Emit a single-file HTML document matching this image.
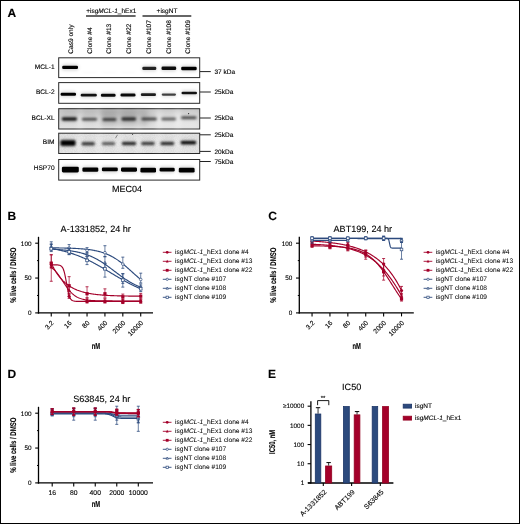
<!DOCTYPE html>
<html><head><meta charset="utf-8"><style>
html,body{margin:0;padding:0;background:#fff;overflow:hidden}
svg{display:block;will-change:transform}
text{font-family:"Liberation Sans", sans-serif;fill:#000;text-rendering:geometricPrecision;stroke:#000;stroke-width:0.12px}
.lg{stroke-width:0.04px}
</style></head><body>
<svg width="520" height="524" viewBox="0 0 520 524">
<defs>
<filter id="blur" x="-20%" y="-100%" width="140%" height="300%"><feGaussianBlur stdDeviation="0.55"/></filter>
<filter id="blur2" x="-20%" y="-100%" width="140%" height="300%"><feGaussianBlur stdDeviation="1.4"/></filter>
<filter id="blur4" x="-20%" y="-100%" width="140%" height="300%"><feGaussianBlur stdDeviation="0.85"/></filter>
<filter id="blur3" x="-20%" y="-20%" width="140%" height="140%"><feGaussianBlur stdDeviation="2.5"/></filter>
<filter id="noise" x="0" y="0" width="100%" height="100%"><feTurbulence type="fractalNoise" baseFrequency="0.9" numOctaves="2" seed="3"/><feColorMatrix type="matrix" values="0 0 0 0 0  0 0 0 0 0  0 0 0 0 0  0 0 0 -1.6 1.1"/></filter>
<linearGradient id="gxl" x1="0" y1="0" x2="0" y2="1"><stop offset="0" stop-color="#c6c6c6"/><stop offset="0.5" stop-color="#d2d2d2"/><stop offset="0.62" stop-color="#dadada"/><stop offset="1" stop-color="#e2e2e2"/></linearGradient>
<linearGradient id="gbim" x1="0" y1="0" x2="0" y2="1"><stop offset="0" stop-color="#e2e2e2"/><stop offset="1" stop-color="#e6e6e6"/></linearGradient>
</defs>
<rect x="0.5" y="0.5" width="519" height="523" fill="#fff" stroke="#000" stroke-width="1"/>
<text x="7.5" y="17.4" font-size="12" font-weight="bold">A</text>
<text x="86.2" y="12.7" font-size="6.5">+isg<tspan font-style="italic">MCL-1</tspan>_hEx1</text>
<line x1="86" y1="16" x2="135.6" y2="16" stroke="#333" stroke-width="1.3"/>
<text x="167" y="12.7" font-size="6.5" text-anchor="middle">+isgNT</text>
<line x1="142.5" y1="16" x2="191.3" y2="16" stroke="#333" stroke-width="1.3"/>
<text transform="translate(73.3,53.8) rotate(-90)" font-size="6.6">Cas9 only</text>
<text transform="translate(92,53.8) rotate(-90)" font-size="6.6">Clone #4</text>
<text transform="translate(111.4,53.8) rotate(-90)" font-size="6.6">Clone #13</text>
<text transform="translate(130.9,53.8) rotate(-90)" font-size="6.6">Clone #22</text>
<text transform="translate(151,53.8) rotate(-90)" font-size="6.6">Clone #107</text>
<text transform="translate(170.6,53.8) rotate(-90)" font-size="6.6">Clone #108</text>
<text transform="translate(190.4,53.8) rotate(-90)" font-size="6.6">Clone #109</text>
<rect x="58.7" y="57.8" width="141" height="19.8" fill="#fff" stroke="#2a2a2a" stroke-width="1"/>
<text x="54.6" y="68.55" font-size="6.6" text-anchor="end">MCL-1</text>
<rect x="58.7" y="82.6" width="141" height="20.7" fill="#fff" stroke="#2a2a2a" stroke-width="1"/>
<text x="54.6" y="94.35" font-size="6.6" text-anchor="end">BCL-2</text>
<rect x="58.7" y="108.7" width="141" height="20.3" fill="url(#gxl)" stroke="#2a2a2a" stroke-width="1"/>
<text x="54.6" y="119.85" font-size="6.6" text-anchor="end">BCL-XL</text>
<rect x="58.7" y="133.2" width="141" height="20.3" fill="url(#gbim)" stroke="#2a2a2a" stroke-width="1"/>
<text x="54.6" y="144.45" font-size="6.6" text-anchor="end">BIM</text>
<rect x="58.7" y="159.5" width="141" height="20.6" fill="#fff" stroke="#2a2a2a" stroke-width="1"/>
<text x="54.6" y="169.55" font-size="6.6" text-anchor="end">HSP70</text>
<rect x="59.2" y="133.7" width="140" height="19.3" fill="#000" opacity="0.06" filter="url(#noise)"/>
<g filter="url(#blur3)">
<rect x="78.5" y="110" width="3" height="18" fill="#fff" opacity="0.55"/>
<rect x="78.5" y="135" width="3" height="17" fill="#fff" opacity="0.45"/>
<rect x="98" y="110" width="3" height="18" fill="#fff" opacity="0.55"/>
<rect x="98" y="135" width="3" height="17" fill="#fff" opacity="0.45"/>
<rect x="117.5" y="110" width="3" height="18" fill="#fff" opacity="0.55"/>
<rect x="117.5" y="135" width="3" height="17" fill="#fff" opacity="0.45"/>
<rect x="137" y="110" width="3" height="18" fill="#fff" opacity="0.55"/>
<rect x="137" y="135" width="3" height="17" fill="#fff" opacity="0.45"/>
<rect x="157" y="110" width="3" height="18" fill="#fff" opacity="0.55"/>
<rect x="157" y="135" width="3" height="17" fill="#fff" opacity="0.45"/>
<rect x="176.5" y="110" width="3" height="18" fill="#fff" opacity="0.55"/>
<rect x="176.5" y="135" width="3" height="17" fill="#fff" opacity="0.45"/>
</g>
<g filter="url(#blur3)">
<rect x="100" y="109" width="48" height="17" fill="#000" opacity="0.12"/>
<rect x="158" y="112" width="40" height="16" fill="#fff" opacity="0.25"/>
<rect x="62" y="109" width="80" height="6" fill="#000" opacity="0.07"/>
</g>
<g filter="url(#blur2)">
<rect x="61.7" y="64.2" width="16.8" height="6.4" rx="3.2" fill="#000" opacity="0.15"/>
<rect x="141.8" y="65.3" width="15" height="6.2" rx="3.1" fill="#000" opacity="0.13"/>
<rect x="161" y="65.1" width="15.7" height="6.4" rx="3.2" fill="#000" opacity="0.14"/>
<rect x="180.7" y="65.2" width="16.5" height="6.6" rx="3.3" fill="#000" opacity="0.15"/>
<rect x="60.1" y="91.3" width="16.4" height="6" rx="3" fill="#000" opacity="0.15"/>
<rect x="80.2" y="92.2" width="17.1" height="5.8" rx="2.9" fill="#000" opacity="0.14"/>
<rect x="100.4" y="92.3" width="15.7" height="6" rx="3" fill="#000" opacity="0.14"/>
<rect x="120" y="92" width="16" height="6" rx="3" fill="#000" opacity="0.14"/>
<rect x="140.3" y="91.85" width="16.2" height="5.7" rx="2.85" fill="#000" opacity="0.13"/>
<rect x="161.2" y="92" width="15.3" height="5.2" rx="2.6" fill="#000" opacity="0.11"/>
<rect x="181" y="90.15" width="16.5" height="5.7" rx="2.85" fill="#000" opacity="0.14"/>
<rect x="61.4" y="165.3" width="17.9" height="8.6" rx="4.3" fill="#000" opacity="0.15"/>
<rect x="81.9" y="165.95" width="16.9" height="7.3" rx="3.65" fill="#000" opacity="0.15"/>
<rect x="101.4" y="165.95" width="16.9" height="6.9" rx="3.45" fill="#000" opacity="0.15"/>
<rect x="120.5" y="166.05" width="17" height="7.1" rx="3.55" fill="#000" opacity="0.15"/>
<rect x="139.9" y="166.25" width="16.6" height="7.7" rx="3.85" fill="#000" opacity="0.15"/>
<rect x="159.1" y="166.15" width="16.1" height="6.9" rx="3.45" fill="#000" opacity="0.15"/>
<rect x="178.3" y="166.2" width="16.8" height="7.8" rx="3.9" fill="#000" opacity="0.15"/>
<rect x="81.5" y="70.05" width="16" height="4.5" rx="2.25" fill="#000" opacity="0"/>
<rect x="101.5" y="70.05" width="16" height="4.5" rx="2.25" fill="#000" opacity="0"/>
<rect x="120.5" y="70.05" width="16" height="4.5" rx="2.25" fill="#000" opacity="0"/>
<rect x="61.4" y="116.1" width="16" height="5.8" rx="2.9" fill="#000" opacity="0.14"/>
<rect x="81.5" y="116.55" width="16" height="5.5" rx="2.75" fill="#000" opacity="0.09"/>
<rect x="102.1" y="116.65" width="14.7" height="5.7" rx="2.85" fill="#000" opacity="0.1"/>
<rect x="121" y="116.1" width="15.5" height="5.8" rx="2.9" fill="#000" opacity="0.12"/>
<rect x="141" y="116.2" width="16.2" height="5.6" rx="2.8" fill="#000" opacity="0.1"/>
<rect x="161" y="116.3" width="15.4" height="5.4" rx="2.7" fill="#000" opacity="0.08"/>
<rect x="180.7" y="115" width="16.2" height="5.4" rx="2.7" fill="#000" opacity="0.1"/>
<rect x="60.1" y="138.7" width="15.8" height="8.6" rx="4.3" fill="#000" opacity="0.15"/>
<rect x="81.2" y="140.7" width="14" height="6" rx="3" fill="#000" opacity="0.11"/>
<rect x="101.5" y="140.8" width="14" height="5.8" rx="2.9" fill="#000" opacity="0.09"/>
<rect x="121.5" y="140.5" width="15" height="6" rx="3" fill="#000" opacity="0.12"/>
<rect x="140.8" y="140.5" width="14.2" height="6" rx="3" fill="#000" opacity="0.1"/>
<rect x="160.1" y="140.5" width="14.4" height="6" rx="3" fill="#000" opacity="0.12"/>
<rect x="180.3" y="139.4" width="16.2" height="6.4" rx="3.2" fill="#000" opacity="0.14"/>
</g>
<g filter="url(#blur)">
<rect x="62.2" y="65.7" width="15.8" height="3.4" rx="1.3" fill="#000" opacity="1.0"/>
<rect x="142.3" y="66.8" width="14" height="3.2" rx="1.3" fill="#000" opacity="0.85"/>
<rect x="161.5" y="66.6" width="14.7" height="3.4" rx="1.3" fill="#000" opacity="0.95"/>
<rect x="181.2" y="66.7" width="15.5" height="3.6" rx="1.3" fill="#000" opacity="1.0"/>
<rect x="60.6" y="92.8" width="15.4" height="3" rx="1.3" fill="#000" opacity="1.0"/>
<rect x="80.7" y="93.7" width="16.1" height="2.8" rx="1.3" fill="#000" opacity="0.92"/>
<rect x="100.9" y="93.8" width="14.7" height="3" rx="1.3" fill="#000" opacity="0.96"/>
<rect x="120.5" y="93.5" width="15" height="3" rx="1.3" fill="#000" opacity="0.96"/>
<rect x="140.8" y="93.35" width="15.2" height="2.7" rx="1.3" fill="#000" opacity="0.88"/>
<rect x="161.7" y="93.5" width="14.3" height="2.2" rx="1.1" fill="#000" opacity="0.72"/>
<rect x="181.5" y="91.65" width="15.5" height="2.7" rx="1.3" fill="#000" opacity="0.92"/>
<rect x="61.9" y="166.8" width="16.9" height="5.6" rx="1.3" fill="#000" opacity="1.0"/>
<rect x="82.4" y="167.45" width="15.9" height="4.3" rx="1.3" fill="#000" opacity="1.0"/>
<rect x="101.9" y="167.45" width="15.9" height="3.9" rx="1.3" fill="#000" opacity="1.0"/>
<rect x="121" y="167.55" width="16" height="4.1" rx="1.3" fill="#000" opacity="1.0"/>
<rect x="140.4" y="167.75" width="15.6" height="4.7" rx="1.3" fill="#000" opacity="1.0"/>
<rect x="159.6" y="167.65" width="15.1" height="3.9" rx="1.3" fill="#000" opacity="1.0"/>
<rect x="178.8" y="167.7" width="15.8" height="4.8" rx="1.3" fill="#000" opacity="1.0"/>
</g>
<g filter="url(#blur4)">
<rect x="82" y="71.55" width="15" height="1.5" rx="0.75" fill="#000" opacity="0.025"/>
<rect x="102" y="71.55" width="15" height="1.5" rx="0.75" fill="#000" opacity="0.025"/>
<rect x="121" y="71.55" width="15" height="1.5" rx="0.75" fill="#000" opacity="0.025"/>
<rect x="61.9" y="117.6" width="15" height="2.8" rx="1.3" fill="#000" opacity="0.95"/>
<rect x="82" y="118.05" width="15" height="2.5" rx="1.25" fill="#000" opacity="0.62"/>
<rect x="102.6" y="118.15" width="13.7" height="2.7" rx="1.3" fill="#000" opacity="0.7"/>
<rect x="121.5" y="117.6" width="14.5" height="2.8" rx="1.3" fill="#000" opacity="0.78"/>
<rect x="141.5" y="117.7" width="15.2" height="2.6" rx="1.3" fill="#000" opacity="0.66"/>
<rect x="161.5" y="117.8" width="14.4" height="2.4" rx="1.2" fill="#000" opacity="0.56"/>
<rect x="181.2" y="116.5" width="15.2" height="2.4" rx="1.2" fill="#000" opacity="0.64"/>
<rect x="60.6" y="140.2" width="14.8" height="5.6" rx="1.3" fill="#000" opacity="1.0"/>
<rect x="81.7" y="142.2" width="13" height="3" rx="1.3" fill="#000" opacity="0.75"/>
<rect x="102" y="142.3" width="13" height="2.8" rx="1.3" fill="#000" opacity="0.58"/>
<rect x="122" y="142" width="14" height="3" rx="1.3" fill="#000" opacity="0.8"/>
<rect x="141.3" y="142" width="13.2" height="3" rx="1.3" fill="#000" opacity="0.7"/>
<rect x="160.6" y="142" width="13.4" height="3" rx="1.3" fill="#000" opacity="0.78"/>
<rect x="180.8" y="140.9" width="15.2" height="3.4" rx="1.3" fill="#000" opacity="0.95"/>
</g>
<circle cx="188.6" cy="113.6" r="0.6" fill="#222"/>
<path d="M115.5 138.2 L117.5 134.8" stroke="#333" stroke-width="0.5"/>
<circle cx="132.5" cy="134.6" r="0.5" fill="#333"/>
<line x1="200" y1="71.6" x2="210.8" y2="71.6" stroke="#222" stroke-width="1"/>
<text x="214.5" y="73.9" font-size="6.5">37 kDa</text>
<line x1="200" y1="92" x2="210.8" y2="92" stroke="#222" stroke-width="1"/>
<text x="214.5" y="94.3" font-size="6.5">25kDa</text>
<line x1="200" y1="118" x2="210.8" y2="118" stroke="#222" stroke-width="1"/>
<text x="214.5" y="120.3" font-size="6.5">25kDa</text>
<line x1="200" y1="134.8" x2="210.8" y2="134.8" stroke="#222" stroke-width="1"/>
<text x="214.5" y="137.1" font-size="6.5">25kDa</text>
<line x1="200" y1="151.4" x2="210.8" y2="151.4" stroke="#222" stroke-width="1"/>
<text x="214.5" y="153.7" font-size="6.5">20kDa</text>
<line x1="200" y1="161.5" x2="210.8" y2="161.5" stroke="#222" stroke-width="1"/>
<text x="214.5" y="163.8" font-size="6.5">75kDa</text>
<text x="127" y="191.8" font-size="9.0" text-anchor="middle">MEC04</text>
<text x="7.4" y="220.4" font-size="12" font-weight="bold">B</text>
<text x="60.6" y="231.9" font-size="9.1">A-1331852, 24 hr</text>
<line x1="38.5" y1="236.8" x2="38.5" y2="313.6" stroke="#000" stroke-width="1.3"/>
<line x1="37.9" y1="312.9" x2="153" y2="312.9" stroke="#000" stroke-width="1.4"/>
<line x1="35.2" y1="243.2" x2="38.5" y2="243.2" stroke="#000" stroke-width="1.1"/>
<text x="31.5" y="245.5" font-size="6.4" text-anchor="end">100</text>
<line x1="35.2" y1="278.05" x2="38.5" y2="278.05" stroke="#000" stroke-width="1.1"/>
<text x="31.5" y="280.35" font-size="6.4" text-anchor="end">50</text>
<line x1="35.2" y1="312.9" x2="38.5" y2="312.9" stroke="#000" stroke-width="1.1"/>
<text x="31.5" y="315.2" font-size="6.4" text-anchor="end">0</text>
<line x1="37" y1="260.62" x2="38.5" y2="260.62" stroke="#000" stroke-width="1.0"/>
<line x1="37" y1="295.47" x2="38.5" y2="295.47" stroke="#000" stroke-width="1.0"/>
<line x1="51.25" y1="312.9" x2="51.25" y2="316.4" stroke="#000" stroke-width="1.1"/>
<text transform="translate(54.25,323.4) rotate(-45)" font-size="6.7" text-anchor="end">3.2</text>
<line x1="69.14" y1="312.9" x2="69.14" y2="316.4" stroke="#000" stroke-width="1.1"/>
<text transform="translate(72.14,323.4) rotate(-45)" font-size="6.7" text-anchor="end">16</text>
<line x1="87.04" y1="312.9" x2="87.04" y2="316.4" stroke="#000" stroke-width="1.1"/>
<text transform="translate(90.04,323.4) rotate(-45)" font-size="6.7" text-anchor="end">80</text>
<line x1="104.93" y1="312.9" x2="104.93" y2="316.4" stroke="#000" stroke-width="1.1"/>
<text transform="translate(107.93,323.4) rotate(-45)" font-size="6.7" text-anchor="end">400</text>
<line x1="122.82" y1="312.9" x2="122.82" y2="316.4" stroke="#000" stroke-width="1.1"/>
<text transform="translate(125.82,323.4) rotate(-45)" font-size="6.7" text-anchor="end">2000</text>
<line x1="140.72" y1="312.9" x2="140.72" y2="316.4" stroke="#000" stroke-width="1.1"/>
<text transform="translate(143.72,323.4) rotate(-45)" font-size="6.7" text-anchor="end">10000</text>
<text transform="translate(95.9,349.4) scale(0.67,1)" font-size="8.7" font-weight="bold" text-anchor="middle">nM</text>
<text transform="translate(15.6,275.2) rotate(-90) scale(0.716,1)" font-size="8.4" font-weight="bold" text-anchor="middle">% live cells / DMSO</text>
<line x1="162.8" y1="252.3" x2="171.5" y2="252.3" stroke="#a4002a" stroke-width="0.9"/>
<circle cx="167.2" cy="252.3" r="1.4" fill="#a4002a"/>
<text class="lg" x="175" y="254.3" font-size="6.6">isg<tspan font-style="italic">MCL-1</tspan>_hEx1 clone #4</text>
<line x1="162.8" y1="261.3" x2="171.5" y2="261.3" stroke="#a4002a" stroke-width="0.9"/>
<path d="M167.2 259.76L168.6 262.42L165.8 262.42Z" fill="#a4002a"/>
<text class="lg" x="175" y="263.3" font-size="6.6">isg<tspan font-style="italic">MCL-1</tspan>_hEx1 clone #13</text>
<line x1="162.8" y1="270.3" x2="171.5" y2="270.3" stroke="#a4002a" stroke-width="0.9"/>
<rect x="165.8" y="268.9" width="2.8" height="2.8" fill="#a4002a"/>
<text class="lg" x="175" y="272.3" font-size="6.6">isg<tspan font-style="italic">MCL-1</tspan>_hEx1 clone #22</text>
<line x1="162.8" y1="279.3" x2="171.5" y2="279.3" stroke="#2c4a7d" stroke-width="0.9"/>
<circle cx="167.2" cy="279.3" r="1.148" fill="#fff" stroke="#2c4a7d" stroke-width="0.7"/>
<text class="lg" x="175" y="281.3" font-size="6.6">isgNT clone #107</text>
<line x1="162.8" y1="288.3" x2="171.5" y2="288.3" stroke="#2c4a7d" stroke-width="0.9"/>
<path d="M167.2 287.04L168.35 289.22L166.05 289.22Z" fill="#fff" stroke="#2c4a7d" stroke-width="0.7"/>
<text class="lg" x="175" y="290.3" font-size="6.6">isgNT clone #108</text>
<line x1="162.8" y1="297.3" x2="171.5" y2="297.3" stroke="#2c4a7d" stroke-width="0.9"/>
<rect x="166.05" y="296.15" width="2.3" height="2.3" fill="#fff" stroke="#2c4a7d" stroke-width="0.7"/>
<text class="lg" x="175" y="299.3" font-size="6.6">isgNT clone #109</text>
<path d="M51.25 247.86 L52 247.86 L52.75 247.87 L53.51 247.88 L54.26 247.89 L55.01 247.89 L55.76 247.9 L56.51 247.91 L57.26 247.92 L58.02 247.93 L58.77 247.94 L59.52 247.95 L60.27 247.97 L61.02 247.98 L61.78 247.99 L62.53 248.01 L63.28 248.02 L64.03 248.04 L64.78 248.06 L65.53 248.07 L66.29 248.09 L67.04 248.11 L67.79 248.13 L68.54 248.16 L69.29 248.18 L70.05 248.21 L70.8 248.23 L71.55 248.26 L72.3 248.29 L73.05 248.32 L73.8 248.35 L74.56 248.39 L75.31 248.43 L76.06 248.47 L76.81 248.51 L77.56 248.55 L78.32 248.6 L79.07 248.64 L79.82 248.7 L80.57 248.75 L81.32 248.81 L82.08 248.87 L82.83 248.93 L83.58 249 L84.33 249.07 L85.08 249.14 L85.83 249.22 L86.59 249.3 L87.34 249.39 L88.09 249.48 L88.84 249.58 L89.59 249.68 L90.35 249.79 L91.1 249.9 L91.85 250.02 L92.6 250.15 L93.35 250.28 L94.1 250.42 L94.86 250.57 L95.61 250.72 L96.36 250.88 L97.11 251.05 L97.86 251.23 L98.62 251.41 L99.37 251.61 L100.12 251.81 L100.87 252.03 L101.62 252.25 L102.37 252.49 L103.13 252.73 L103.88 252.99 L104.63 253.26 L105.38 253.54 L106.13 253.83 L106.89 254.14 L107.64 254.46 L108.39 254.79 L109.14 255.14 L109.89 255.49 L110.64 255.87 L111.4 256.25 L112.15 256.66 L112.9 257.07 L113.65 257.5 L114.4 257.95 L115.16 258.41 L115.91 258.88 L116.66 259.37 L117.41 259.88 L118.16 260.39 L118.91 260.93 L119.67 261.47 L120.42 262.03 L121.17 262.6 L121.92 263.19 L122.67 263.78 L123.43 264.39 L124.18 265.01 L124.93 265.64 L125.68 266.28 L126.43 266.92 L127.19 267.58 L127.94 268.24 L128.69 268.9 L129.44 269.57 L130.19 270.25 L130.94 270.92 L131.7 271.6 L132.45 272.28 L133.2 272.96 L133.95 273.64 L134.7 274.31 L135.46 274.98 L136.21 275.64 L136.96 276.3 L137.71 276.95 L138.46 277.6 L139.21 278.24 L139.97 278.86 L140.72 279.48" fill="none" stroke="#2c4a7d" stroke-width="1.15"/>
<line x1="51.25" y1="241.81" x2="51.25" y2="249.47" stroke="#2c4a7d" stroke-width="0.7"/>
<line x1="49.75" y1="241.81" x2="52.75" y2="241.81" stroke="#2c4a7d" stroke-width="0.8"/>
<line x1="49.75" y1="249.47" x2="52.75" y2="249.47" stroke="#2c4a7d" stroke-width="0.8"/>
<circle cx="51.25" cy="247.38" r="1.312" fill="#fff" stroke="#2c4a7d" stroke-width="0.7"/>
<line x1="69.14" y1="244.59" x2="69.14" y2="250.17" stroke="#2c4a7d" stroke-width="0.7"/>
<line x1="67.64" y1="244.59" x2="70.64" y2="244.59" stroke="#2c4a7d" stroke-width="0.8"/>
<line x1="67.64" y1="250.17" x2="70.64" y2="250.17" stroke="#2c4a7d" stroke-width="0.8"/>
<circle cx="69.14" cy="248.08" r="1.312" fill="#fff" stroke="#2c4a7d" stroke-width="0.7"/>
<line x1="87.04" y1="247.66" x2="87.04" y2="253.24" stroke="#2c4a7d" stroke-width="0.7"/>
<line x1="85.54" y1="247.66" x2="88.54" y2="247.66" stroke="#2c4a7d" stroke-width="0.8"/>
<line x1="85.54" y1="253.24" x2="88.54" y2="253.24" stroke="#2c4a7d" stroke-width="0.8"/>
<circle cx="87.04" cy="250.45" r="1.312" fill="#fff" stroke="#2c4a7d" stroke-width="0.7"/>
<line x1="104.93" y1="245.71" x2="104.93" y2="256.86" stroke="#2c4a7d" stroke-width="0.7"/>
<line x1="103.43" y1="245.71" x2="106.43" y2="245.71" stroke="#2c4a7d" stroke-width="0.8"/>
<line x1="103.43" y1="256.86" x2="106.43" y2="256.86" stroke="#2c4a7d" stroke-width="0.8"/>
<circle cx="104.93" cy="252.68" r="1.312" fill="#fff" stroke="#2c4a7d" stroke-width="0.7"/>
<line x1="122.82" y1="257.14" x2="122.82" y2="268.29" stroke="#2c4a7d" stroke-width="0.7"/>
<line x1="121.32" y1="257.14" x2="124.32" y2="257.14" stroke="#2c4a7d" stroke-width="0.8"/>
<line x1="121.32" y1="268.29" x2="124.32" y2="268.29" stroke="#2c4a7d" stroke-width="0.8"/>
<circle cx="122.82" cy="264.11" r="1.312" fill="#fff" stroke="#2c4a7d" stroke-width="0.7"/>
<line x1="140.72" y1="273.17" x2="140.72" y2="282.93" stroke="#2c4a7d" stroke-width="0.7"/>
<line x1="139.22" y1="273.17" x2="142.22" y2="273.17" stroke="#2c4a7d" stroke-width="0.8"/>
<line x1="139.22" y1="282.93" x2="142.22" y2="282.93" stroke="#2c4a7d" stroke-width="0.8"/>
<circle cx="140.72" cy="279.44" r="1.312" fill="#fff" stroke="#2c4a7d" stroke-width="0.7"/>
<path d="M51.25 249.19 L52 249.22 L52.75 249.26 L53.51 249.29 L54.26 249.33 L55.01 249.37 L55.76 249.41 L56.51 249.46 L57.26 249.5 L58.02 249.55 L58.77 249.6 L59.52 249.66 L60.27 249.71 L61.02 249.77 L61.78 249.83 L62.53 249.9 L63.28 249.96 L64.03 250.04 L64.78 250.11 L65.53 250.19 L66.29 250.27 L67.04 250.36 L67.79 250.44 L68.54 250.54 L69.29 250.64 L70.05 250.74 L70.8 250.85 L71.55 250.96 L72.3 251.08 L73.05 251.2 L73.8 251.33 L74.56 251.47 L75.31 251.61 L76.06 251.75 L76.81 251.91 L77.56 252.07 L78.32 252.24 L79.07 252.41 L79.82 252.59 L80.57 252.78 L81.32 252.98 L82.08 253.19 L82.83 253.4 L83.58 253.62 L84.33 253.86 L85.08 254.1 L85.83 254.35 L86.59 254.61 L87.34 254.88 L88.09 255.16 L88.84 255.45 L89.59 255.75 L90.35 256.06 L91.1 256.38 L91.85 256.71 L92.6 257.05 L93.35 257.41 L94.1 257.77 L94.86 258.15 L95.61 258.54 L96.36 258.94 L97.11 259.35 L97.86 259.77 L98.62 260.2 L99.37 260.64 L100.12 261.09 L100.87 261.55 L101.62 262.03 L102.37 262.51 L103.13 263 L103.88 263.5 L104.63 264.01 L105.38 264.53 L106.13 265.06 L106.89 265.59 L107.64 266.13 L108.39 266.67 L109.14 267.22 L109.89 267.78 L110.64 268.34 L111.4 268.9 L112.15 269.47 L112.9 270.04 L113.65 270.61 L114.4 271.18 L115.16 271.75 L115.91 272.32 L116.66 272.89 L117.41 273.46 L118.16 274.02 L118.91 274.58 L119.67 275.14 L120.42 275.69 L121.17 276.23 L121.92 276.77 L122.67 277.3 L123.43 277.83 L124.18 278.35 L124.93 278.86 L125.68 279.36 L126.43 279.85 L127.19 280.33 L127.94 280.81 L128.69 281.27 L129.44 281.72 L130.19 282.16 L130.94 282.59 L131.7 283.01 L132.45 283.42 L133.2 283.82 L133.95 284.21 L134.7 284.59 L135.46 284.95 L136.21 285.3 L136.96 285.65 L137.71 285.98 L138.46 286.3 L139.21 286.61 L139.97 286.91 L140.72 287.2" fill="none" stroke="#2c4a7d" stroke-width="1.15"/>
<line x1="51.25" y1="243.9" x2="51.25" y2="250.17" stroke="#2c4a7d" stroke-width="0.7"/>
<line x1="49.75" y1="243.9" x2="52.75" y2="243.9" stroke="#2c4a7d" stroke-width="0.8"/>
<line x1="49.75" y1="250.17" x2="52.75" y2="250.17" stroke="#2c4a7d" stroke-width="0.8"/>
<path d="M51.25 246.64L52.56 249.13L49.94 249.13Z" fill="#fff" stroke="#2c4a7d" stroke-width="0.7"/>
<line x1="69.14" y1="248.08" x2="69.14" y2="254.35" stroke="#2c4a7d" stroke-width="0.7"/>
<line x1="67.64" y1="248.08" x2="70.64" y2="248.08" stroke="#2c4a7d" stroke-width="0.8"/>
<line x1="67.64" y1="254.35" x2="70.64" y2="254.35" stroke="#2c4a7d" stroke-width="0.8"/>
<path d="M69.14 250.12L70.46 252.61L67.83 252.61Z" fill="#fff" stroke="#2c4a7d" stroke-width="0.7"/>
<line x1="87.04" y1="252.26" x2="87.04" y2="259.23" stroke="#2c4a7d" stroke-width="0.7"/>
<line x1="85.54" y1="252.26" x2="88.54" y2="252.26" stroke="#2c4a7d" stroke-width="0.8"/>
<line x1="85.54" y1="259.23" x2="88.54" y2="259.23" stroke="#2c4a7d" stroke-width="0.8"/>
<path d="M87.04 254.3L88.35 256.8L85.73 256.8Z" fill="#fff" stroke="#2c4a7d" stroke-width="0.7"/>
<line x1="104.93" y1="256.44" x2="104.93" y2="268.99" stroke="#2c4a7d" stroke-width="0.7"/>
<line x1="103.43" y1="256.44" x2="106.43" y2="256.44" stroke="#2c4a7d" stroke-width="0.8"/>
<line x1="103.43" y1="268.99" x2="106.43" y2="268.99" stroke="#2c4a7d" stroke-width="0.8"/>
<path d="M104.93 261.27L106.24 263.77L103.62 263.77Z" fill="#fff" stroke="#2c4a7d" stroke-width="0.7"/>
<line x1="122.82" y1="273.59" x2="122.82" y2="283.35" stroke="#2c4a7d" stroke-width="0.7"/>
<line x1="121.32" y1="273.59" x2="124.32" y2="273.59" stroke="#2c4a7d" stroke-width="0.8"/>
<line x1="121.32" y1="283.35" x2="124.32" y2="283.35" stroke="#2c4a7d" stroke-width="0.8"/>
<path d="M122.82 277.02L124.14 279.52L121.51 279.52Z" fill="#fff" stroke="#2c4a7d" stroke-width="0.7"/>
<line x1="140.72" y1="284.04" x2="140.72" y2="289.62" stroke="#2c4a7d" stroke-width="0.7"/>
<line x1="139.22" y1="284.04" x2="142.22" y2="284.04" stroke="#2c4a7d" stroke-width="0.8"/>
<line x1="139.22" y1="289.62" x2="142.22" y2="289.62" stroke="#2c4a7d" stroke-width="0.8"/>
<path d="M140.72 285.39L142.03 287.88L139.41 287.88Z" fill="#fff" stroke="#2c4a7d" stroke-width="0.7"/>
<path d="M51.25 248.51 L52 248.64 L52.75 248.77 L53.51 248.9 L54.26 249.04 L55.01 249.18 L55.76 249.33 L56.51 249.48 L57.26 249.63 L58.02 249.79 L58.77 249.95 L59.52 250.12 L60.27 250.29 L61.02 250.46 L61.78 250.64 L62.53 250.83 L63.28 251.01 L64.03 251.21 L64.78 251.4 L65.53 251.61 L66.29 251.81 L67.04 252.02 L67.79 252.24 L68.54 252.46 L69.29 252.69 L70.05 252.92 L70.8 253.16 L71.55 253.4 L72.3 253.64 L73.05 253.9 L73.8 254.16 L74.56 254.42 L75.31 254.69 L76.06 254.96 L76.81 255.24 L77.56 255.53 L78.32 255.82 L79.07 256.11 L79.82 256.41 L80.57 256.72 L81.32 257.03 L82.08 257.35 L82.83 257.68 L83.58 258 L84.33 258.34 L85.08 258.68 L85.83 259.02 L86.59 259.38 L87.34 259.73 L88.09 260.09 L88.84 260.46 L89.59 260.83 L90.35 261.21 L91.1 261.59 L91.85 261.97 L92.6 262.36 L93.35 262.76 L94.1 263.16 L94.86 263.56 L95.61 263.97 L96.36 264.38 L97.11 264.8 L97.86 265.22 L98.62 265.64 L99.37 266.07 L100.12 266.5 L100.87 266.93 L101.62 267.37 L102.37 267.8 L103.13 268.25 L103.88 268.69 L104.63 269.13 L105.38 269.58 L106.13 270.03 L106.89 270.48 L107.64 270.93 L108.39 271.38 L109.14 271.83 L109.89 272.29 L110.64 272.74 L111.4 273.19 L112.15 273.65 L112.9 274.1 L113.65 274.55 L114.4 275 L115.16 275.46 L115.91 275.9 L116.66 276.35 L117.41 276.8 L118.16 277.24 L118.91 277.68 L119.67 278.12 L120.42 278.56 L121.17 278.99 L121.92 279.42 L122.67 279.85 L123.43 280.28 L124.18 280.7 L124.93 281.12 L125.68 281.53 L126.43 281.94 L127.19 282.34 L127.94 282.75 L128.69 283.14 L129.44 283.54 L130.19 283.92 L130.94 284.31 L131.7 284.69 L132.45 285.06 L133.2 285.43 L133.95 285.79 L134.7 286.15 L135.46 286.5 L136.21 286.85 L136.96 287.19 L137.71 287.53 L138.46 287.86 L139.21 288.19 L139.97 288.51 L140.72 288.82" fill="none" stroke="#2c4a7d" stroke-width="1.15"/>
<line x1="51.25" y1="244.59" x2="51.25" y2="251.56" stroke="#2c4a7d" stroke-width="0.7"/>
<line x1="49.75" y1="244.59" x2="52.75" y2="244.59" stroke="#2c4a7d" stroke-width="0.8"/>
<line x1="49.75" y1="251.56" x2="52.75" y2="251.56" stroke="#2c4a7d" stroke-width="0.8"/>
<rect x="49.94" y="247.46" width="2.62" height="2.62" fill="#fff" stroke="#2c4a7d" stroke-width="0.7"/>
<line x1="69.14" y1="248.43" x2="69.14" y2="254.7" stroke="#2c4a7d" stroke-width="0.7"/>
<line x1="67.64" y1="248.43" x2="70.64" y2="248.43" stroke="#2c4a7d" stroke-width="0.8"/>
<line x1="67.64" y1="254.7" x2="70.64" y2="254.7" stroke="#2c4a7d" stroke-width="0.8"/>
<rect x="67.83" y="250.6" width="2.62" height="2.62" fill="#fff" stroke="#2c4a7d" stroke-width="0.7"/>
<line x1="87.04" y1="256.23" x2="87.04" y2="264.6" stroke="#2c4a7d" stroke-width="0.7"/>
<line x1="85.54" y1="256.23" x2="88.54" y2="256.23" stroke="#2c4a7d" stroke-width="0.8"/>
<line x1="85.54" y1="264.6" x2="88.54" y2="264.6" stroke="#2c4a7d" stroke-width="0.8"/>
<rect x="85.73" y="259.1" width="2.62" height="2.62" fill="#fff" stroke="#2c4a7d" stroke-width="0.7"/>
<line x1="104.93" y1="263.2" x2="104.93" y2="277.14" stroke="#2c4a7d" stroke-width="0.7"/>
<line x1="103.43" y1="263.2" x2="106.43" y2="263.2" stroke="#2c4a7d" stroke-width="0.8"/>
<line x1="103.43" y1="277.14" x2="106.43" y2="277.14" stroke="#2c4a7d" stroke-width="0.8"/>
<rect x="103.62" y="267.47" width="2.62" height="2.62" fill="#fff" stroke="#2c4a7d" stroke-width="0.7"/>
<line x1="122.82" y1="273.87" x2="122.82" y2="287.11" stroke="#2c4a7d" stroke-width="0.7"/>
<line x1="121.32" y1="273.87" x2="124.32" y2="273.87" stroke="#2c4a7d" stroke-width="0.8"/>
<line x1="121.32" y1="287.11" x2="124.32" y2="287.11" stroke="#2c4a7d" stroke-width="0.8"/>
<rect x="121.51" y="278.83" width="2.62" height="2.62" fill="#fff" stroke="#2c4a7d" stroke-width="0.7"/>
<line x1="140.72" y1="286" x2="140.72" y2="291.57" stroke="#2c4a7d" stroke-width="0.7"/>
<line x1="139.22" y1="286" x2="142.22" y2="286" stroke="#2c4a7d" stroke-width="0.8"/>
<line x1="139.22" y1="291.57" x2="142.22" y2="291.57" stroke="#2c4a7d" stroke-width="0.8"/>
<rect x="139.41" y="287.47" width="2.62" height="2.62" fill="#fff" stroke="#2c4a7d" stroke-width="0.7"/>
<path d="M51.25 263.13 L52 264.7 L52.75 266.2 L53.51 267.62 L54.26 268.98 L55.01 270.27 L55.76 271.51 L56.51 272.68 L57.26 273.8 L58.02 274.86 L58.77 275.88 L59.52 276.85 L60.27 277.77 L61.02 278.65 L61.78 279.48 L62.53 280.28 L63.28 281.04 L64.03 281.76 L64.78 282.45 L65.53 283.1 L66.29 283.73 L67.04 284.32 L67.79 284.89 L68.54 285.43 L69.29 285.94 L70.05 286.43 L70.8 286.9 L71.55 287.35 L72.3 287.77 L73.05 288.17 L73.8 288.56 L74.56 288.92 L75.31 289.27 L76.06 289.6 L76.81 289.92 L77.56 290.22 L78.32 290.51 L79.07 290.78 L79.82 291.04 L80.57 291.29 L81.32 291.53 L82.08 291.75 L82.83 291.97 L83.58 292.17 L84.33 292.37 L85.08 292.55 L85.83 292.73 L86.59 292.9 L87.34 293.06 L88.09 293.21 L88.84 293.36 L89.59 293.5 L90.35 293.63 L91.1 293.75 L91.85 293.87 L92.6 293.99 L93.35 294.1 L94.1 294.2 L94.86 294.3 L95.61 294.39 L96.36 294.48 L97.11 294.57 L97.86 294.65 L98.62 294.73 L99.37 294.8 L100.12 294.87 L100.87 294.94 L101.62 295 L102.37 295.06 L103.13 295.12 L103.88 295.18 L104.63 295.23 L105.38 295.28 L106.13 295.33 L106.89 295.37 L107.64 295.42 L108.39 295.46 L109.14 295.5 L109.89 295.53 L110.64 295.57 L111.4 295.6 L112.15 295.63 L112.9 295.67 L113.65 295.69 L114.4 295.72 L115.16 295.75 L115.91 295.77 L116.66 295.8 L117.41 295.82 L118.16 295.84 L118.91 295.86 L119.67 295.88 L120.42 295.9 L121.17 295.92 L121.92 295.94 L122.67 295.96 L123.43 295.97 L124.18 295.99 L124.93 296 L125.68 296.01 L126.43 296.03 L127.19 296.04 L127.94 296.05 L128.69 296.06 L129.44 296.07 L130.19 296.08 L130.94 296.09 L131.7 296.1 L132.45 296.11 L133.2 296.12 L133.95 296.13 L134.7 296.13 L135.46 296.14 L136.21 296.15 L136.96 296.15 L137.71 296.16 L138.46 296.17 L139.21 296.17 L139.97 296.18 L140.72 296.18" fill="none" stroke="#a4002a" stroke-width="1.15"/>
<line x1="51.25" y1="254.77" x2="51.25" y2="267.32" stroke="#a4002a" stroke-width="0.7"/>
<line x1="49.75" y1="254.77" x2="52.75" y2="254.77" stroke="#a4002a" stroke-width="0.8"/>
<line x1="49.75" y1="267.32" x2="52.75" y2="267.32" stroke="#a4002a" stroke-width="0.8"/>
<rect x="49.65" y="261.53" width="3.2" height="3.2" fill="#a4002a"/>
<line x1="69.14" y1="276.66" x2="69.14" y2="291.29" stroke="#a4002a" stroke-width="0.7"/>
<line x1="67.64" y1="276.66" x2="70.64" y2="276.66" stroke="#a4002a" stroke-width="0.8"/>
<line x1="67.64" y1="291.29" x2="70.64" y2="291.29" stroke="#a4002a" stroke-width="0.8"/>
<rect x="67.54" y="284.12" width="3.2" height="3.2" fill="#a4002a"/>
<line x1="87.04" y1="286.76" x2="87.04" y2="297.91" stroke="#a4002a" stroke-width="0.7"/>
<line x1="85.54" y1="286.76" x2="88.54" y2="286.76" stroke="#a4002a" stroke-width="0.8"/>
<line x1="85.54" y1="297.91" x2="88.54" y2="297.91" stroke="#a4002a" stroke-width="0.8"/>
<rect x="85.44" y="292.13" width="3.2" height="3.2" fill="#a4002a"/>
<line x1="104.93" y1="288.85" x2="104.93" y2="297.22" stroke="#a4002a" stroke-width="0.7"/>
<line x1="103.43" y1="288.85" x2="106.43" y2="288.85" stroke="#a4002a" stroke-width="0.8"/>
<line x1="103.43" y1="297.22" x2="106.43" y2="297.22" stroke="#a4002a" stroke-width="0.8"/>
<rect x="103.33" y="292.13" width="3.2" height="3.2" fill="#a4002a"/>
<line x1="122.82" y1="294.08" x2="122.82" y2="299.66" stroke="#a4002a" stroke-width="0.7"/>
<line x1="121.32" y1="294.08" x2="124.32" y2="294.08" stroke="#a4002a" stroke-width="0.8"/>
<line x1="121.32" y1="299.66" x2="124.32" y2="299.66" stroke="#a4002a" stroke-width="0.8"/>
<rect x="121.22" y="295.27" width="3.2" height="3.2" fill="#a4002a"/>
<line x1="140.72" y1="293.38" x2="140.72" y2="298.96" stroke="#a4002a" stroke-width="0.7"/>
<line x1="139.22" y1="293.38" x2="142.22" y2="293.38" stroke="#a4002a" stroke-width="0.8"/>
<line x1="139.22" y1="298.96" x2="142.22" y2="298.96" stroke="#a4002a" stroke-width="0.8"/>
<rect x="139.12" y="294.57" width="3.2" height="3.2" fill="#a4002a"/>
<path d="M51.25 264.81 L52 264.81 L52.75 264.81 L53.51 264.82 L54.26 264.82 L55.01 264.83 L55.76 264.85 L56.51 264.88 L57.26 264.92 L58.02 264.98 L58.77 265.09 L59.52 265.26 L60.27 265.52 L61.02 265.94 L61.78 266.6 L62.53 267.6 L63.28 269.09 L64.03 271.23 L64.78 274.13 L65.53 277.77 L66.29 281.95 L67.04 286.24 L67.79 290.21 L68.54 293.52 L69.29 296.06 L70.05 297.88 L70.8 299.12 L71.55 299.95 L72.3 300.48 L73.05 300.82 L73.8 301.04 L74.56 301.17 L75.31 301.26 L76.06 301.31 L76.81 301.34 L77.56 301.37 L78.32 301.38 L79.07 301.39 L79.82 301.39 L80.57 301.39 L81.32 301.4 L82.08 301.4 L82.83 301.4 L83.58 301.4 L84.33 301.4 L85.08 301.4 L85.83 301.4 L86.59 301.4 L87.34 301.4 L88.09 301.4 L88.84 301.4 L89.59 301.4 L90.35 301.4 L91.1 301.4 L91.85 301.4 L92.6 301.4 L93.35 301.4 L94.1 301.4 L94.86 301.4 L95.61 301.4 L96.36 301.4 L97.11 301.4 L97.86 301.4 L98.62 301.4 L99.37 301.4 L100.12 301.4 L100.87 301.4 L101.62 301.4 L102.37 301.4 L103.13 301.4 L103.88 301.4 L104.63 301.4 L105.38 301.4 L106.13 301.4 L106.89 301.4 L107.64 301.4 L108.39 301.4 L109.14 301.4 L109.89 301.4 L110.64 301.4 L111.4 301.4 L112.15 301.4 L112.9 301.4 L113.65 301.4 L114.4 301.4 L115.16 301.4 L115.91 301.4 L116.66 301.4 L117.41 301.4 L118.16 301.4 L118.91 301.4 L119.67 301.4 L120.42 301.4 L121.17 301.4 L121.92 301.4 L122.67 301.4 L123.43 301.4 L124.18 301.4 L124.93 301.4 L125.68 301.4 L126.43 301.4 L127.19 301.4 L127.94 301.4 L128.69 301.4 L129.44 301.4 L130.19 301.4 L130.94 301.4 L131.7 301.4 L132.45 301.4 L133.2 301.4 L133.95 301.4 L134.7 301.4 L135.46 301.4 L136.21 301.4 L136.96 301.4 L137.71 301.4 L138.46 301.4 L139.21 301.4 L139.97 301.4 L140.72 301.4" fill="none" stroke="#a4002a" stroke-width="1.15"/>
<line x1="51.25" y1="262.72" x2="51.25" y2="266.9" stroke="#a4002a" stroke-width="0.7"/>
<line x1="49.75" y1="262.72" x2="52.75" y2="262.72" stroke="#a4002a" stroke-width="0.8"/>
<line x1="49.75" y1="266.9" x2="52.75" y2="266.9" stroke="#a4002a" stroke-width="0.8"/>
<circle cx="51.25" cy="264.81" r="1.6" fill="#a4002a"/>
<line x1="69.14" y1="294.22" x2="69.14" y2="298.4" stroke="#a4002a" stroke-width="0.7"/>
<line x1="67.64" y1="294.22" x2="70.64" y2="294.22" stroke="#a4002a" stroke-width="0.8"/>
<line x1="67.64" y1="298.4" x2="70.64" y2="298.4" stroke="#a4002a" stroke-width="0.8"/>
<circle cx="69.14" cy="296.31" r="1.6" fill="#a4002a"/>
<line x1="87.04" y1="300.21" x2="87.04" y2="303" stroke="#a4002a" stroke-width="0.7"/>
<line x1="85.54" y1="300.21" x2="88.54" y2="300.21" stroke="#a4002a" stroke-width="0.8"/>
<line x1="85.54" y1="303" x2="88.54" y2="303" stroke="#a4002a" stroke-width="0.8"/>
<circle cx="87.04" cy="301.61" r="1.6" fill="#a4002a"/>
<line x1="104.93" y1="300.08" x2="104.93" y2="302.86" stroke="#a4002a" stroke-width="0.7"/>
<line x1="103.43" y1="300.08" x2="106.43" y2="300.08" stroke="#a4002a" stroke-width="0.8"/>
<line x1="103.43" y1="302.86" x2="106.43" y2="302.86" stroke="#a4002a" stroke-width="0.8"/>
<circle cx="104.93" cy="301.47" r="1.6" fill="#a4002a"/>
<line x1="122.82" y1="300.77" x2="122.82" y2="303.56" stroke="#a4002a" stroke-width="0.7"/>
<line x1="121.32" y1="300.77" x2="124.32" y2="300.77" stroke="#a4002a" stroke-width="0.8"/>
<line x1="121.32" y1="303.56" x2="124.32" y2="303.56" stroke="#a4002a" stroke-width="0.8"/>
<circle cx="122.82" cy="302.17" r="1.6" fill="#a4002a"/>
<line x1="140.72" y1="300.08" x2="140.72" y2="302.86" stroke="#a4002a" stroke-width="0.7"/>
<line x1="139.22" y1="300.08" x2="142.22" y2="300.08" stroke="#a4002a" stroke-width="0.8"/>
<line x1="139.22" y1="302.86" x2="142.22" y2="302.86" stroke="#a4002a" stroke-width="0.8"/>
<circle cx="140.72" cy="301.47" r="1.6" fill="#a4002a"/>
<path d="M51.25 267.32 L52 267.9 L52.75 268.53 L53.51 269.2 L54.26 269.93 L55.01 270.71 L55.76 271.54 L56.51 272.42 L57.26 273.35 L58.02 274.32 L58.77 275.34 L59.52 276.39 L60.27 277.47 L61.02 278.57 L61.78 279.7 L62.53 280.83 L63.28 281.97 L64.03 283.11 L64.78 284.23 L65.53 285.34 L66.29 286.41 L67.04 287.46 L67.79 288.47 L68.54 289.44 L69.29 290.36 L70.05 291.23 L70.8 292.06 L71.55 292.83 L72.3 293.56 L73.05 294.23 L73.8 294.85 L74.56 295.43 L75.31 295.96 L76.06 296.44 L76.81 296.89 L77.56 297.29 L78.32 297.66 L79.07 298 L79.82 298.3 L80.57 298.57 L81.32 298.82 L82.08 299.05 L82.83 299.25 L83.58 299.43 L84.33 299.59 L85.08 299.74 L85.83 299.87 L86.59 299.98 L87.34 300.09 L88.09 300.18 L88.84 300.27 L89.59 300.34 L90.35 300.41 L91.1 300.47 L91.85 300.52 L92.6 300.57 L93.35 300.61 L94.1 300.65 L94.86 300.69 L95.61 300.72 L96.36 300.74 L97.11 300.77 L97.86 300.79 L98.62 300.81 L99.37 300.83 L100.12 300.84 L100.87 300.85 L101.62 300.87 L102.37 300.88 L103.13 300.89 L103.88 300.89 L104.63 300.9 L105.38 300.91 L106.13 300.92 L106.89 300.92 L107.64 300.93 L108.39 300.93 L109.14 300.93 L109.89 300.94 L110.64 300.94 L111.4 300.94 L112.15 300.94 L112.9 300.95 L113.65 300.95 L114.4 300.95 L115.16 300.95 L115.91 300.95 L116.66 300.95 L117.41 300.96 L118.16 300.96 L118.91 300.96 L119.67 300.96 L120.42 300.96 L121.17 300.96 L121.92 300.96 L122.67 300.96 L123.43 300.96 L124.18 300.96 L124.93 300.96 L125.68 300.96 L126.43 300.96 L127.19 300.96 L127.94 300.96 L128.69 300.96 L129.44 300.96 L130.19 300.96 L130.94 300.96 L131.7 300.96 L132.45 300.96 L133.2 300.96 L133.95 300.96 L134.7 300.96 L135.46 300.96 L136.21 300.96 L136.96 300.96 L137.71 300.96 L138.46 300.96 L139.21 300.96 L139.97 300.96 L140.72 300.96" fill="none" stroke="#a4002a" stroke-width="1.15"/>
<line x1="51.25" y1="254.77" x2="51.25" y2="281.26" stroke="#a4002a" stroke-width="0.7"/>
<line x1="49.75" y1="254.77" x2="52.75" y2="254.77" stroke="#a4002a" stroke-width="0.8"/>
<line x1="49.75" y1="281.26" x2="52.75" y2="281.26" stroke="#a4002a" stroke-width="0.8"/>
<path d="M51.25 265.56L52.85 268.6L49.65 268.6Z" fill="#a4002a"/>
<line x1="69.14" y1="286.69" x2="69.14" y2="293.66" stroke="#a4002a" stroke-width="0.7"/>
<line x1="67.64" y1="286.69" x2="70.64" y2="286.69" stroke="#a4002a" stroke-width="0.8"/>
<line x1="67.64" y1="293.66" x2="70.64" y2="293.66" stroke="#a4002a" stroke-width="0.8"/>
<path d="M69.14 288.42L70.74 291.46L67.54 291.46Z" fill="#a4002a"/>
<line x1="87.04" y1="297.98" x2="87.04" y2="302.17" stroke="#a4002a" stroke-width="0.7"/>
<line x1="85.54" y1="297.98" x2="88.54" y2="297.98" stroke="#a4002a" stroke-width="0.8"/>
<line x1="85.54" y1="302.17" x2="88.54" y2="302.17" stroke="#a4002a" stroke-width="0.8"/>
<path d="M87.04 298.32L88.64 301.36L85.44 301.36Z" fill="#a4002a"/>
<line x1="104.93" y1="298.61" x2="104.93" y2="302.79" stroke="#a4002a" stroke-width="0.7"/>
<line x1="103.43" y1="298.61" x2="106.43" y2="298.61" stroke="#a4002a" stroke-width="0.8"/>
<line x1="103.43" y1="302.79" x2="106.43" y2="302.79" stroke="#a4002a" stroke-width="0.8"/>
<path d="M104.93 298.94L106.53 301.98L103.33 301.98Z" fill="#a4002a"/>
<line x1="122.82" y1="298.96" x2="122.82" y2="303.14" stroke="#a4002a" stroke-width="0.7"/>
<line x1="121.32" y1="298.96" x2="124.32" y2="298.96" stroke="#a4002a" stroke-width="0.8"/>
<line x1="121.32" y1="303.14" x2="124.32" y2="303.14" stroke="#a4002a" stroke-width="0.8"/>
<path d="M122.82 299.29L124.42 302.33L121.22 302.33Z" fill="#a4002a"/>
<line x1="140.72" y1="298.96" x2="140.72" y2="303.14" stroke="#a4002a" stroke-width="0.7"/>
<line x1="139.22" y1="298.96" x2="142.22" y2="298.96" stroke="#a4002a" stroke-width="0.8"/>
<line x1="139.22" y1="303.14" x2="142.22" y2="303.14" stroke="#a4002a" stroke-width="0.8"/>
<path d="M140.72 299.29L142.32 302.33L139.12 302.33Z" fill="#a4002a"/>
<text x="268.2" y="220.4" font-size="12" font-weight="bold">C</text>
<text x="333.5" y="231.9" font-size="9.1">ABT199, 24 hr</text>
<line x1="299.3" y1="236.8" x2="299.3" y2="313.6" stroke="#000" stroke-width="1.3"/>
<line x1="298.7" y1="312.9" x2="413.8" y2="312.9" stroke="#000" stroke-width="1.4"/>
<line x1="296" y1="243.2" x2="299.3" y2="243.2" stroke="#000" stroke-width="1.1"/>
<text x="292.3" y="245.5" font-size="6.4" text-anchor="end">100</text>
<line x1="296" y1="278.05" x2="299.3" y2="278.05" stroke="#000" stroke-width="1.1"/>
<text x="292.3" y="280.35" font-size="6.4" text-anchor="end">50</text>
<line x1="296" y1="312.9" x2="299.3" y2="312.9" stroke="#000" stroke-width="1.1"/>
<text x="292.3" y="315.2" font-size="6.4" text-anchor="end">0</text>
<line x1="297.8" y1="260.62" x2="299.3" y2="260.62" stroke="#000" stroke-width="1.0"/>
<line x1="297.8" y1="295.47" x2="299.3" y2="295.47" stroke="#000" stroke-width="1.0"/>
<line x1="312.05" y1="312.9" x2="312.05" y2="316.4" stroke="#000" stroke-width="1.1"/>
<text transform="translate(315.05,323.4) rotate(-45)" font-size="6.7" text-anchor="end">3.2</text>
<line x1="329.94" y1="312.9" x2="329.94" y2="316.4" stroke="#000" stroke-width="1.1"/>
<text transform="translate(332.94,323.4) rotate(-45)" font-size="6.7" text-anchor="end">16</text>
<line x1="347.84" y1="312.9" x2="347.84" y2="316.4" stroke="#000" stroke-width="1.1"/>
<text transform="translate(350.84,323.4) rotate(-45)" font-size="6.7" text-anchor="end">80</text>
<line x1="365.73" y1="312.9" x2="365.73" y2="316.4" stroke="#000" stroke-width="1.1"/>
<text transform="translate(368.73,323.4) rotate(-45)" font-size="6.7" text-anchor="end">400</text>
<line x1="383.62" y1="312.9" x2="383.62" y2="316.4" stroke="#000" stroke-width="1.1"/>
<text transform="translate(386.62,323.4) rotate(-45)" font-size="6.7" text-anchor="end">2000</text>
<line x1="401.52" y1="312.9" x2="401.52" y2="316.4" stroke="#000" stroke-width="1.1"/>
<text transform="translate(404.52,323.4) rotate(-45)" font-size="6.7" text-anchor="end">10000</text>
<text transform="translate(356.7,349.4) scale(0.67,1)" font-size="8.7" font-weight="bold" text-anchor="middle">nM</text>
<text transform="translate(276.4,275.2) rotate(-90) scale(0.716,1)" font-size="8.4" font-weight="bold" text-anchor="middle">% live cells / DMSO</text>
<line x1="423.6" y1="252.3" x2="432.3" y2="252.3" stroke="#a4002a" stroke-width="0.9"/>
<circle cx="428" cy="252.3" r="1.4" fill="#a4002a"/>
<text class="lg" x="435.8" y="254.3" font-size="6.6">isg<tspan font-style="italic">MCL-1</tspan>_hEx1 clone #4</text>
<line x1="423.6" y1="261.3" x2="432.3" y2="261.3" stroke="#a4002a" stroke-width="0.9"/>
<path d="M428 259.76L429.4 262.42L426.6 262.42Z" fill="#a4002a"/>
<text class="lg" x="435.8" y="263.3" font-size="6.6">isg<tspan font-style="italic">MCL-1</tspan>_hEx1 clone #13</text>
<line x1="423.6" y1="270.3" x2="432.3" y2="270.3" stroke="#a4002a" stroke-width="0.9"/>
<rect x="426.6" y="268.9" width="2.8" height="2.8" fill="#a4002a"/>
<text class="lg" x="435.8" y="272.3" font-size="6.6">isg<tspan font-style="italic">MCL-1</tspan>_hEx1 clone #22</text>
<line x1="423.6" y1="279.3" x2="432.3" y2="279.3" stroke="#2c4a7d" stroke-width="0.9"/>
<circle cx="428" cy="279.3" r="1.148" fill="#fff" stroke="#2c4a7d" stroke-width="0.7"/>
<text class="lg" x="435.8" y="281.3" font-size="6.6">isgNT clone #107</text>
<line x1="423.6" y1="288.3" x2="432.3" y2="288.3" stroke="#2c4a7d" stroke-width="0.9"/>
<path d="M428 287.04L429.15 289.22L426.85 289.22Z" fill="#fff" stroke="#2c4a7d" stroke-width="0.7"/>
<text class="lg" x="435.8" y="290.3" font-size="6.6">isgNT clone #108</text>
<line x1="423.6" y1="297.3" x2="432.3" y2="297.3" stroke="#2c4a7d" stroke-width="0.9"/>
<rect x="426.85" y="296.15" width="2.3" height="2.3" fill="#fff" stroke="#2c4a7d" stroke-width="0.7"/>
<text class="lg" x="435.8" y="299.3" font-size="6.6">isgNT clone #109</text>
<path d="M312.05 241.1 L312.8 241.15 L313.55 241.19 L314.31 241.24 L315.06 241.28 L315.81 241.33 L316.56 241.38 L317.31 241.44 L318.06 241.49 L318.82 241.54 L319.57 241.6 L320.32 241.66 L321.07 241.72 L321.82 241.78 L322.58 241.84 L323.33 241.91 L324.08 241.98 L324.83 242.05 L325.58 242.12 L326.33 242.2 L327.09 242.27 L327.84 242.35 L328.59 242.43 L329.34 242.52 L330.09 242.6 L330.85 242.69 L331.6 242.78 L332.35 242.88 L333.1 242.98 L333.85 243.08 L334.6 243.18 L335.36 243.29 L336.11 243.4 L336.86 243.51 L337.61 243.63 L338.36 243.75 L339.12 243.87 L339.87 244 L340.62 244.13 L341.37 244.27 L342.12 244.41 L342.88 244.55 L343.63 244.7 L344.38 244.85 L345.13 245.01 L345.88 245.17 L346.63 245.34 L347.39 245.51 L348.14 245.69 L348.89 245.87 L349.64 246.06 L350.39 246.26 L351.15 246.46 L351.9 246.67 L352.65 246.88 L353.4 247.1 L354.15 247.33 L354.9 247.56 L355.66 247.8 L356.41 248.05 L357.16 248.3 L357.91 248.57 L358.66 248.84 L359.42 249.12 L360.17 249.41 L360.92 249.7 L361.67 250.01 L362.42 250.32 L363.17 250.65 L363.93 250.98 L364.68 251.33 L365.43 251.68 L366.18 252.05 L366.93 252.43 L367.69 252.82 L368.44 253.22 L369.19 253.63 L369.94 254.06 L370.69 254.5 L371.44 254.95 L372.2 255.42 L372.95 255.9 L373.7 256.39 L374.45 256.9 L375.2 257.43 L375.96 257.97 L376.71 258.53 L377.46 259.11 L378.21 259.7 L378.96 260.31 L379.71 260.94 L380.47 261.59 L381.22 262.26 L381.97 262.95 L382.72 263.66 L383.47 264.39 L384.23 265.15 L384.98 265.92 L385.73 266.73 L386.48 267.55 L387.23 268.4 L387.99 269.28 L388.74 270.18 L389.49 271.12 L390.24 272.08 L390.99 273.06 L391.74 274.08 L392.5 275.13 L393.25 276.22 L394 277.33 L394.75 278.48 L395.5 279.67 L396.26 280.89 L397.01 282.14 L397.76 283.44 L398.51 284.78 L399.26 286.15 L400.01 287.57 L400.77 289.03 L401.52 290.54" fill="none" stroke="#a4002a" stroke-width="1.15"/>
<line x1="312.05" y1="240.06" x2="312.05" y2="242.85" stroke="#a4002a" stroke-width="0.7"/>
<line x1="310.55" y1="240.06" x2="313.55" y2="240.06" stroke="#a4002a" stroke-width="0.8"/>
<line x1="310.55" y1="242.85" x2="313.55" y2="242.85" stroke="#a4002a" stroke-width="0.8"/>
<circle cx="312.05" cy="241.46" r="1.6" fill="#a4002a"/>
<line x1="329.94" y1="241.11" x2="329.94" y2="243.9" stroke="#a4002a" stroke-width="0.7"/>
<line x1="328.44" y1="241.11" x2="331.44" y2="241.11" stroke="#a4002a" stroke-width="0.8"/>
<line x1="328.44" y1="243.9" x2="331.44" y2="243.9" stroke="#a4002a" stroke-width="0.8"/>
<circle cx="329.94" cy="242.5" r="1.6" fill="#a4002a"/>
<line x1="347.84" y1="242.5" x2="347.84" y2="246.69" stroke="#a4002a" stroke-width="0.7"/>
<line x1="346.34" y1="242.5" x2="349.34" y2="242.5" stroke="#a4002a" stroke-width="0.8"/>
<line x1="346.34" y1="246.69" x2="349.34" y2="246.69" stroke="#a4002a" stroke-width="0.8"/>
<circle cx="347.84" cy="244.59" r="1.6" fill="#a4002a"/>
<line x1="365.73" y1="250.17" x2="365.73" y2="255.75" stroke="#a4002a" stroke-width="0.7"/>
<line x1="364.23" y1="250.17" x2="367.23" y2="250.17" stroke="#a4002a" stroke-width="0.8"/>
<line x1="364.23" y1="255.75" x2="367.23" y2="255.75" stroke="#a4002a" stroke-width="0.8"/>
<circle cx="365.73" cy="252.96" r="1.6" fill="#a4002a"/>
<line x1="383.62" y1="258.53" x2="383.62" y2="269.69" stroke="#a4002a" stroke-width="0.7"/>
<line x1="382.12" y1="258.53" x2="385.12" y2="258.53" stroke="#a4002a" stroke-width="0.8"/>
<line x1="382.12" y1="269.69" x2="385.12" y2="269.69" stroke="#a4002a" stroke-width="0.8"/>
<circle cx="383.62" cy="264.11" r="1.6" fill="#a4002a"/>
<line x1="401.52" y1="286.41" x2="401.52" y2="294.78" stroke="#a4002a" stroke-width="0.7"/>
<line x1="400.02" y1="286.41" x2="403.02" y2="286.41" stroke="#a4002a" stroke-width="0.8"/>
<line x1="400.02" y1="294.78" x2="403.02" y2="294.78" stroke="#a4002a" stroke-width="0.8"/>
<circle cx="401.52" cy="290.6" r="1.6" fill="#a4002a"/>
<path d="M312.05 244.24 L312.8 244.27 L313.55 244.31 L314.31 244.34 L315.06 244.37 L315.81 244.41 L316.56 244.45 L317.31 244.49 L318.06 244.53 L318.82 244.57 L319.57 244.61 L320.32 244.66 L321.07 244.7 L321.82 244.75 L322.58 244.8 L323.33 244.86 L324.08 244.91 L324.83 244.97 L325.58 245.03 L326.33 245.09 L327.09 245.15 L327.84 245.22 L328.59 245.29 L329.34 245.36 L330.09 245.43 L330.85 245.51 L331.6 245.59 L332.35 245.67 L333.1 245.76 L333.85 245.85 L334.6 245.94 L335.36 246.04 L336.11 246.14 L336.86 246.24 L337.61 246.35 L338.36 246.46 L339.12 246.58 L339.87 246.7 L340.62 246.83 L341.37 246.96 L342.12 247.09 L342.88 247.23 L343.63 247.38 L344.38 247.53 L345.13 247.68 L345.88 247.85 L346.63 248.02 L347.39 248.19 L348.14 248.37 L348.89 248.56 L349.64 248.76 L350.39 248.96 L351.15 249.17 L351.9 249.38 L352.65 249.61 L353.4 249.84 L354.15 250.08 L354.9 250.33 L355.66 250.59 L356.41 250.86 L357.16 251.14 L357.91 251.43 L358.66 251.73 L359.42 252.03 L360.17 252.35 L360.92 252.68 L361.67 253.03 L362.42 253.38 L363.17 253.75 L363.93 254.12 L364.68 254.52 L365.43 254.92 L366.18 255.34 L366.93 255.77 L367.69 256.22 L368.44 256.68 L369.19 257.15 L369.94 257.64 L370.69 258.15 L371.44 258.67 L372.2 259.21 L372.95 259.76 L373.7 260.34 L374.45 260.93 L375.2 261.53 L375.96 262.16 L376.71 262.8 L377.46 263.47 L378.21 264.15 L378.96 264.85 L379.71 265.57 L380.47 266.31 L381.22 267.07 L381.97 267.86 L382.72 268.66 L383.47 269.48 L384.23 270.33 L384.98 271.19 L385.73 272.08 L386.48 272.98 L387.23 273.91 L387.99 274.86 L388.74 275.84 L389.49 276.83 L390.24 277.84 L390.99 278.88 L391.74 279.94 L392.5 281.02 L393.25 282.12 L394 283.24 L394.75 284.38 L395.5 285.54 L396.26 286.72 L397.01 287.91 L397.76 289.13 L398.51 290.37 L399.26 291.62 L400.01 292.89 L400.77 294.18 L401.52 295.48" fill="none" stroke="#a4002a" stroke-width="1.15"/>
<line x1="312.05" y1="241.11" x2="312.05" y2="246.69" stroke="#a4002a" stroke-width="0.7"/>
<line x1="310.55" y1="241.11" x2="313.55" y2="241.11" stroke="#a4002a" stroke-width="0.8"/>
<line x1="310.55" y1="246.69" x2="313.55" y2="246.69" stroke="#a4002a" stroke-width="0.8"/>
<path d="M312.05 242.14L313.65 245.18L310.45 245.18Z" fill="#a4002a"/>
<line x1="329.94" y1="243.9" x2="329.94" y2="248.08" stroke="#a4002a" stroke-width="0.7"/>
<line x1="328.44" y1="243.9" x2="331.44" y2="243.9" stroke="#a4002a" stroke-width="0.8"/>
<line x1="328.44" y1="248.08" x2="331.44" y2="248.08" stroke="#a4002a" stroke-width="0.8"/>
<path d="M329.94 244.23L331.54 247.27L328.34 247.27Z" fill="#a4002a"/>
<line x1="347.84" y1="245.29" x2="347.84" y2="250.87" stroke="#a4002a" stroke-width="0.7"/>
<line x1="346.34" y1="245.29" x2="349.34" y2="245.29" stroke="#a4002a" stroke-width="0.8"/>
<line x1="346.34" y1="250.87" x2="349.34" y2="250.87" stroke="#a4002a" stroke-width="0.8"/>
<path d="M347.84 246.32L349.44 249.36L346.24 249.36Z" fill="#a4002a"/>
<line x1="365.73" y1="250.87" x2="365.73" y2="259.23" stroke="#a4002a" stroke-width="0.7"/>
<line x1="364.23" y1="250.87" x2="367.23" y2="250.87" stroke="#a4002a" stroke-width="0.8"/>
<line x1="364.23" y1="259.23" x2="367.23" y2="259.23" stroke="#a4002a" stroke-width="0.8"/>
<path d="M365.73 253.29L367.33 256.33L364.13 256.33Z" fill="#a4002a"/>
<line x1="383.62" y1="263.41" x2="383.62" y2="275.96" stroke="#a4002a" stroke-width="0.7"/>
<line x1="382.12" y1="263.41" x2="385.12" y2="263.41" stroke="#a4002a" stroke-width="0.8"/>
<line x1="382.12" y1="275.96" x2="385.12" y2="275.96" stroke="#a4002a" stroke-width="0.8"/>
<path d="M383.62 267.93L385.22 270.97L382.02 270.97Z" fill="#a4002a"/>
<line x1="401.52" y1="293.38" x2="401.52" y2="297.57" stroke="#a4002a" stroke-width="0.7"/>
<line x1="400.02" y1="293.38" x2="403.02" y2="293.38" stroke="#a4002a" stroke-width="0.8"/>
<line x1="400.02" y1="297.57" x2="403.02" y2="297.57" stroke="#a4002a" stroke-width="0.8"/>
<path d="M401.52 293.71L403.12 296.75L399.92 296.75Z" fill="#a4002a"/>
<path d="M312.05 245.84 L312.8 245.85 L313.55 245.86 L314.31 245.87 L315.06 245.88 L315.81 245.89 L316.56 245.9 L317.31 245.91 L318.06 245.92 L318.82 245.93 L319.57 245.94 L320.32 245.96 L321.07 245.97 L321.82 245.99 L322.58 246 L323.33 246.02 L324.08 246.04 L324.83 246.06 L325.58 246.08 L326.33 246.1 L327.09 246.12 L327.84 246.15 L328.59 246.17 L329.34 246.2 L330.09 246.23 L330.85 246.26 L331.6 246.3 L332.35 246.33 L333.1 246.37 L333.85 246.41 L334.6 246.45 L335.36 246.5 L336.11 246.54 L336.86 246.6 L337.61 246.65 L338.36 246.71 L339.12 246.77 L339.87 246.83 L340.62 246.9 L341.37 246.97 L342.12 247.05 L342.88 247.13 L343.63 247.22 L344.38 247.31 L345.13 247.41 L345.88 247.51 L346.63 247.62 L347.39 247.73 L348.14 247.86 L348.89 247.99 L349.64 248.13 L350.39 248.27 L351.15 248.43 L351.9 248.59 L352.65 248.76 L353.4 248.94 L354.15 249.14 L354.9 249.34 L355.66 249.56 L356.41 249.79 L357.16 250.03 L357.91 250.28 L358.66 250.55 L359.42 250.83 L360.17 251.13 L360.92 251.45 L361.67 251.78 L362.42 252.13 L363.17 252.49 L363.93 252.88 L364.68 253.29 L365.43 253.71 L366.18 254.16 L366.93 254.63 L367.69 255.12 L368.44 255.64 L369.19 256.18 L369.94 256.74 L370.69 257.33 L371.44 257.95 L372.2 258.59 L372.95 259.26 L373.7 259.95 L374.45 260.68 L375.2 261.43 L375.96 262.21 L376.71 263.02 L377.46 263.85 L378.21 264.71 L378.96 265.6 L379.71 266.52 L380.47 267.47 L381.22 268.44 L381.97 269.43 L382.72 270.45 L383.47 271.5 L384.23 272.56 L384.98 273.65 L385.73 274.75 L386.48 275.88 L387.23 277.02 L387.99 278.17 L388.74 279.33 L389.49 280.51 L390.24 281.69 L390.99 282.88 L391.74 284.08 L392.5 285.27 L393.25 286.47 L394 287.66 L394.75 288.84 L395.5 290.02 L396.26 291.2 L397.01 292.35 L397.76 293.5 L398.51 294.63 L399.26 295.75 L400.01 296.84 L400.77 297.92 L401.52 298.97" fill="none" stroke="#a4002a" stroke-width="1.15"/>
<line x1="312.05" y1="243.2" x2="312.05" y2="247.38" stroke="#a4002a" stroke-width="0.7"/>
<line x1="310.55" y1="243.2" x2="313.55" y2="243.2" stroke="#a4002a" stroke-width="0.8"/>
<line x1="310.55" y1="247.38" x2="313.55" y2="247.38" stroke="#a4002a" stroke-width="0.8"/>
<rect x="310.45" y="243.69" width="3.2" height="3.2" fill="#a4002a"/>
<line x1="329.94" y1="244.59" x2="329.94" y2="248.78" stroke="#a4002a" stroke-width="0.7"/>
<line x1="328.44" y1="244.59" x2="331.44" y2="244.59" stroke="#a4002a" stroke-width="0.8"/>
<line x1="328.44" y1="248.78" x2="331.44" y2="248.78" stroke="#a4002a" stroke-width="0.8"/>
<rect x="328.34" y="245.09" width="3.2" height="3.2" fill="#a4002a"/>
<line x1="347.84" y1="245.99" x2="347.84" y2="250.17" stroke="#a4002a" stroke-width="0.7"/>
<line x1="346.34" y1="245.99" x2="349.34" y2="245.99" stroke="#a4002a" stroke-width="0.8"/>
<line x1="346.34" y1="250.17" x2="349.34" y2="250.17" stroke="#a4002a" stroke-width="0.8"/>
<rect x="346.24" y="246.48" width="3.2" height="3.2" fill="#a4002a"/>
<line x1="365.73" y1="250.17" x2="365.73" y2="257.14" stroke="#a4002a" stroke-width="0.7"/>
<line x1="364.23" y1="250.17" x2="367.23" y2="250.17" stroke="#a4002a" stroke-width="0.8"/>
<line x1="364.23" y1="257.14" x2="367.23" y2="257.14" stroke="#a4002a" stroke-width="0.8"/>
<rect x="364.13" y="252.05" width="3.2" height="3.2" fill="#a4002a"/>
<line x1="383.62" y1="263.41" x2="383.62" y2="280.14" stroke="#a4002a" stroke-width="0.7"/>
<line x1="382.12" y1="263.41" x2="385.12" y2="263.41" stroke="#a4002a" stroke-width="0.8"/>
<line x1="382.12" y1="280.14" x2="385.12" y2="280.14" stroke="#a4002a" stroke-width="0.8"/>
<rect x="382.02" y="270.18" width="3.2" height="3.2" fill="#a4002a"/>
<line x1="401.52" y1="296.87" x2="401.52" y2="301.05" stroke="#a4002a" stroke-width="0.7"/>
<line x1="400.02" y1="296.87" x2="403.02" y2="296.87" stroke="#a4002a" stroke-width="0.8"/>
<line x1="400.02" y1="301.05" x2="403.02" y2="301.05" stroke="#a4002a" stroke-width="0.8"/>
<rect x="399.92" y="297.36" width="3.2" height="3.2" fill="#a4002a"/>
<path d="M312.05 238.33 L312.8 238.33 L313.55 238.33 L314.31 238.33 L315.06 238.34 L315.81 238.34 L316.56 238.34 L317.31 238.34 L318.06 238.34 L318.82 238.34 L319.57 238.34 L320.32 238.34 L321.07 238.34 L321.82 238.35 L322.58 238.35 L323.33 238.35 L324.08 238.35 L324.83 238.35 L325.58 238.35 L326.33 238.36 L327.09 238.36 L327.84 238.36 L328.59 238.36 L329.34 238.37 L330.09 238.37 L330.85 238.37 L331.6 238.38 L332.35 238.38 L333.1 238.38 L333.85 238.39 L334.6 238.39 L335.36 238.39 L336.11 238.4 L336.86 238.4 L337.61 238.41 L338.36 238.41 L339.12 238.41 L339.87 238.42 L340.62 238.42 L341.37 238.43 L342.12 238.43 L342.88 238.44 L343.63 238.44 L344.38 238.45 L345.13 238.46 L345.88 238.46 L346.63 238.47 L347.39 238.47 L348.14 238.48 L348.89 238.48 L349.64 238.49 L350.39 238.5 L351.15 238.5 L351.9 238.51 L352.65 238.51 L353.4 238.52 L354.15 238.53 L354.9 238.53 L355.66 238.54 L356.41 238.54 L357.16 238.55 L357.91 238.55 L358.66 238.56 L359.42 238.56 L360.17 238.57 L360.92 238.57 L361.67 238.58 L362.42 238.58 L363.17 238.59 L363.93 238.59 L364.68 238.59 L365.43 238.6 L366.18 238.6 L366.93 238.61 L367.69 238.61 L368.44 238.61 L369.19 238.62 L369.94 238.62 L370.69 238.62 L371.44 238.62 L372.2 238.63 L372.95 238.63 L373.7 238.63 L374.45 238.63 L375.2 238.64 L375.96 238.64 L376.71 238.64 L377.46 238.64 L378.21 238.64 L378.96 238.64 L379.71 238.65 L380.47 238.65 L381.22 238.65 L381.97 238.65 L382.72 238.65 L383.47 238.65 L384.23 238.65 L384.98 238.65 L385.73 238.66 L386.48 238.66 L387.23 238.66 L387.99 238.66 L388.74 238.66 L389.49 238.66 L390.24 238.66 L390.99 238.66 L391.74 238.66 L392.5 238.66 L393.25 238.66 L394 238.66 L394.75 238.66 L395.5 238.66 L396.26 238.66 L397.01 238.66 L397.76 238.66 L398.51 238.66 L399.26 238.67 L400.01 238.67 L400.77 238.67 L401.52 238.67" fill="none" stroke="#2c4a7d" stroke-width="1.15"/>
<line x1="312.05" y1="236.93" x2="312.05" y2="239.71" stroke="#2c4a7d" stroke-width="0.7"/>
<line x1="310.55" y1="236.93" x2="313.55" y2="236.93" stroke="#2c4a7d" stroke-width="0.8"/>
<line x1="310.55" y1="239.71" x2="313.55" y2="239.71" stroke="#2c4a7d" stroke-width="0.8"/>
<circle cx="312.05" cy="238.32" r="1.312" fill="#fff" stroke="#2c4a7d" stroke-width="0.7"/>
<line x1="329.94" y1="236.93" x2="329.94" y2="239.71" stroke="#2c4a7d" stroke-width="0.7"/>
<line x1="328.44" y1="236.93" x2="331.44" y2="236.93" stroke="#2c4a7d" stroke-width="0.8"/>
<line x1="328.44" y1="239.71" x2="331.44" y2="239.71" stroke="#2c4a7d" stroke-width="0.8"/>
<circle cx="329.94" cy="238.32" r="1.312" fill="#fff" stroke="#2c4a7d" stroke-width="0.7"/>
<line x1="347.84" y1="237.62" x2="347.84" y2="239.02" stroke="#2c4a7d" stroke-width="0.7"/>
<line x1="346.34" y1="237.62" x2="349.34" y2="237.62" stroke="#2c4a7d" stroke-width="0.8"/>
<line x1="346.34" y1="239.02" x2="349.34" y2="239.02" stroke="#2c4a7d" stroke-width="0.8"/>
<circle cx="347.84" cy="238.32" r="1.312" fill="#fff" stroke="#2c4a7d" stroke-width="0.7"/>
<line x1="365.73" y1="236.93" x2="365.73" y2="239.71" stroke="#2c4a7d" stroke-width="0.7"/>
<line x1="364.23" y1="236.93" x2="367.23" y2="236.93" stroke="#2c4a7d" stroke-width="0.8"/>
<line x1="364.23" y1="239.71" x2="367.23" y2="239.71" stroke="#2c4a7d" stroke-width="0.8"/>
<circle cx="365.73" cy="238.32" r="1.312" fill="#fff" stroke="#2c4a7d" stroke-width="0.7"/>
<line x1="383.62" y1="236.23" x2="383.62" y2="240.41" stroke="#2c4a7d" stroke-width="0.7"/>
<line x1="382.12" y1="236.23" x2="385.12" y2="236.23" stroke="#2c4a7d" stroke-width="0.8"/>
<line x1="382.12" y1="240.41" x2="385.12" y2="240.41" stroke="#2c4a7d" stroke-width="0.8"/>
<circle cx="383.62" cy="238.32" r="1.312" fill="#fff" stroke="#2c4a7d" stroke-width="0.7"/>
<line x1="401.52" y1="238.32" x2="401.52" y2="242.5" stroke="#2c4a7d" stroke-width="0.7"/>
<line x1="400.02" y1="238.32" x2="403.02" y2="238.32" stroke="#2c4a7d" stroke-width="0.8"/>
<line x1="400.02" y1="242.5" x2="403.02" y2="242.5" stroke="#2c4a7d" stroke-width="0.8"/>
<circle cx="401.52" cy="240.41" r="1.312" fill="#fff" stroke="#2c4a7d" stroke-width="0.7"/>
<path d="M312.05 240.41 L312.8 240.41 L313.55 240.41 L314.31 240.41 L315.06 240.41 L315.81 240.41 L316.56 240.41 L317.31 240.41 L318.06 240.41 L318.82 240.41 L319.57 240.41 L320.32 240.41 L321.07 240.41 L321.82 240.41 L322.58 240.41 L323.33 240.41 L324.08 240.41 L324.83 240.41 L325.58 240.41 L326.33 240.41 L327.09 240.41 L327.84 240.41 L328.59 240.41 L329.34 240.41 L330.09 240.41 L330.85 240.41 L331.6 240.41 L332.35 240.41 L333.1 240.41 L333.85 240.41 L334.6 240.41 L335.36 240.41 L336.11 240.41 L336.86 240.41 L337.61 240.41 L338.36 240.41 L339.12 240.41 L339.87 240.41 L340.62 240.41 L341.37 240.41 L342.12 240.41 L342.88 240.41 L343.63 240.41 L344.38 240.41 L345.13 240.41 L345.88 240.41 L346.63 240.4 L347.39 240.33 L348.14 240.01 L348.89 239.24 L349.64 238.59 L350.39 238.38 L351.15 238.33 L351.9 238.32 L352.65 238.32 L353.4 238.32 L354.15 238.32 L354.9 238.32 L355.66 238.32 L356.41 238.32 L357.16 238.32 L357.91 238.32 L358.66 238.32 L359.42 238.32 L360.17 238.32 L360.92 238.32 L361.67 238.32 L362.42 238.32 L363.17 238.32 L363.93 238.32 L364.68 238.32 L365.43 238.32 L366.18 238.32 L366.93 238.32 L367.69 238.32 L368.44 238.32 L369.19 238.32 L369.94 238.32 L370.69 238.32 L371.44 238.32 L372.2 238.32 L372.95 238.32 L373.7 238.32 L374.45 238.32 L375.2 238.32 L375.96 238.32 L376.71 238.32 L377.46 238.32 L378.21 238.32 L378.96 238.32 L379.71 238.32 L380.47 238.32 L381.22 238.32 L381.97 238.32 L382.72 238.32 L383.47 238.32 L384.23 238.32 L384.98 238.32 L385.73 238.32 L386.48 238.32 L387.23 238.32 L387.99 238.32 L388.74 238.32 L389.49 238.32 L390.24 238.32 L390.99 238.32 L391.74 238.32 L392.5 238.32 L393.25 238.32 L394 238.32 L394.75 238.32 L395.5 238.32 L396.26 238.32 L397.01 238.32 L397.76 238.32 L398.51 238.32 L399.26 238.32 L400.01 238.32 L400.77 238.32 L401.52 238.32" fill="none" stroke="#2c4a7d" stroke-width="1.15"/>
<line x1="312.05" y1="237.62" x2="312.05" y2="243.2" stroke="#2c4a7d" stroke-width="0.7"/>
<line x1="310.55" y1="237.62" x2="313.55" y2="237.62" stroke="#2c4a7d" stroke-width="0.8"/>
<line x1="310.55" y1="243.2" x2="313.55" y2="243.2" stroke="#2c4a7d" stroke-width="0.8"/>
<path d="M312.05 238.97L313.36 241.46L310.74 241.46Z" fill="#fff" stroke="#2c4a7d" stroke-width="0.7"/>
<line x1="329.94" y1="238.32" x2="329.94" y2="242.5" stroke="#2c4a7d" stroke-width="0.7"/>
<line x1="328.44" y1="238.32" x2="331.44" y2="238.32" stroke="#2c4a7d" stroke-width="0.8"/>
<line x1="328.44" y1="242.5" x2="331.44" y2="242.5" stroke="#2c4a7d" stroke-width="0.8"/>
<path d="M329.94 238.97L331.26 241.46L328.63 241.46Z" fill="#fff" stroke="#2c4a7d" stroke-width="0.7"/>
<line x1="347.84" y1="239.02" x2="347.84" y2="241.81" stroke="#2c4a7d" stroke-width="0.7"/>
<line x1="346.34" y1="239.02" x2="349.34" y2="239.02" stroke="#2c4a7d" stroke-width="0.8"/>
<line x1="346.34" y1="241.81" x2="349.34" y2="241.81" stroke="#2c4a7d" stroke-width="0.8"/>
<path d="M347.84 238.97L349.15 241.46L346.53 241.46Z" fill="#fff" stroke="#2c4a7d" stroke-width="0.7"/>
<line x1="365.73" y1="236.93" x2="365.73" y2="239.71" stroke="#2c4a7d" stroke-width="0.7"/>
<line x1="364.23" y1="236.93" x2="367.23" y2="236.93" stroke="#2c4a7d" stroke-width="0.8"/>
<line x1="364.23" y1="239.71" x2="367.23" y2="239.71" stroke="#2c4a7d" stroke-width="0.8"/>
<path d="M365.73 236.88L367.04 239.37L364.42 239.37Z" fill="#fff" stroke="#2c4a7d" stroke-width="0.7"/>
<line x1="383.62" y1="236.93" x2="383.62" y2="239.71" stroke="#2c4a7d" stroke-width="0.7"/>
<line x1="382.12" y1="236.93" x2="385.12" y2="236.93" stroke="#2c4a7d" stroke-width="0.8"/>
<line x1="382.12" y1="239.71" x2="385.12" y2="239.71" stroke="#2c4a7d" stroke-width="0.8"/>
<path d="M383.62 236.88L384.94 239.37L382.31 239.37Z" fill="#fff" stroke="#2c4a7d" stroke-width="0.7"/>
<line x1="401.52" y1="239.02" x2="401.52" y2="241.81" stroke="#2c4a7d" stroke-width="0.7"/>
<line x1="400.02" y1="239.02" x2="403.02" y2="239.02" stroke="#2c4a7d" stroke-width="0.8"/>
<line x1="400.02" y1="241.81" x2="403.02" y2="241.81" stroke="#2c4a7d" stroke-width="0.8"/>
<path d="M401.52 238.97L402.83 241.46L400.21 241.46Z" fill="#fff" stroke="#2c4a7d" stroke-width="0.7"/>
<path d="M312.05 238.32 L312.8 238.32 L313.55 238.32 L314.31 238.32 L315.06 238.32 L315.81 238.32 L316.56 238.32 L317.31 238.32 L318.06 238.32 L318.82 238.32 L319.57 238.32 L320.32 238.32 L321.07 238.32 L321.82 238.32 L322.58 238.32 L323.33 238.32 L324.08 238.32 L324.83 238.32 L325.58 238.32 L326.33 238.32 L327.09 238.32 L327.84 238.32 L328.59 238.32 L329.34 238.32 L330.09 238.32 L330.85 238.32 L331.6 238.32 L332.35 238.32 L333.1 238.32 L333.85 238.32 L334.6 238.32 L335.36 238.32 L336.11 238.32 L336.86 238.32 L337.61 238.32 L338.36 238.32 L339.12 238.32 L339.87 238.32 L340.62 238.32 L341.37 238.32 L342.12 238.32 L342.88 238.32 L343.63 238.32 L344.38 238.32 L345.13 238.32 L345.88 238.32 L346.63 238.32 L347.39 238.32 L348.14 238.32 L348.89 238.32 L349.64 238.32 L350.39 238.32 L351.15 238.32 L351.9 238.32 L352.65 238.32 L353.4 238.32 L354.15 238.32 L354.9 238.32 L355.66 238.32 L356.41 238.32 L357.16 238.32 L357.91 238.32 L358.66 238.32 L359.42 238.32 L360.17 238.32 L360.92 238.32 L361.67 238.32 L362.42 238.32 L363.17 238.32 L363.93 238.32 L364.68 238.32 L365.43 238.32 L366.18 238.32 L366.93 238.32 L367.69 238.32 L368.44 238.32 L369.19 238.32 L369.94 238.32 L370.69 238.32 L371.44 238.32 L372.2 238.32 L372.95 238.32 L373.7 238.32 L374.45 238.32 L375.2 238.32 L375.96 238.32 L376.71 238.32 L377.46 238.32 L378.21 238.32 L378.96 238.32 L379.71 238.32 L380.47 238.32 L381.22 238.32 L381.97 238.32 L382.72 238.32 L383.47 238.32 L384.23 238.32 L384.98 238.32 L385.73 238.32 L386.48 238.33 L387.23 238.38 L387.99 238.62 L388.74 239.74 L389.49 243.01 L390.24 246.46 L390.99 247.73 L391.74 248.01 L392.5 248.07 L393.25 248.08 L394 248.08 L394.75 248.08 L395.5 248.08 L396.26 248.08 L397.01 248.08 L397.76 248.08 L398.51 248.08 L399.26 248.08 L400.01 248.08 L400.77 248.08 L401.52 248.08" fill="none" stroke="#2c4a7d" stroke-width="1.15"/>
<line x1="312.05" y1="236.93" x2="312.05" y2="239.71" stroke="#2c4a7d" stroke-width="0.7"/>
<line x1="310.55" y1="236.93" x2="313.55" y2="236.93" stroke="#2c4a7d" stroke-width="0.8"/>
<line x1="310.55" y1="239.71" x2="313.55" y2="239.71" stroke="#2c4a7d" stroke-width="0.8"/>
<rect x="310.74" y="237.01" width="2.62" height="2.62" fill="#fff" stroke="#2c4a7d" stroke-width="0.7"/>
<line x1="329.94" y1="236.93" x2="329.94" y2="239.71" stroke="#2c4a7d" stroke-width="0.7"/>
<line x1="328.44" y1="236.93" x2="331.44" y2="236.93" stroke="#2c4a7d" stroke-width="0.8"/>
<line x1="328.44" y1="239.71" x2="331.44" y2="239.71" stroke="#2c4a7d" stroke-width="0.8"/>
<rect x="328.63" y="237.01" width="2.62" height="2.62" fill="#fff" stroke="#2c4a7d" stroke-width="0.7"/>
<line x1="347.84" y1="236.93" x2="347.84" y2="239.71" stroke="#2c4a7d" stroke-width="0.7"/>
<line x1="346.34" y1="236.93" x2="349.34" y2="236.93" stroke="#2c4a7d" stroke-width="0.8"/>
<line x1="346.34" y1="239.71" x2="349.34" y2="239.71" stroke="#2c4a7d" stroke-width="0.8"/>
<rect x="346.53" y="237.01" width="2.62" height="2.62" fill="#fff" stroke="#2c4a7d" stroke-width="0.7"/>
<line x1="365.73" y1="237.62" x2="365.73" y2="239.02" stroke="#2c4a7d" stroke-width="0.7"/>
<line x1="364.23" y1="237.62" x2="367.23" y2="237.62" stroke="#2c4a7d" stroke-width="0.8"/>
<line x1="364.23" y1="239.02" x2="367.23" y2="239.02" stroke="#2c4a7d" stroke-width="0.8"/>
<rect x="364.42" y="237.01" width="2.62" height="2.62" fill="#fff" stroke="#2c4a7d" stroke-width="0.7"/>
<line x1="383.62" y1="236.23" x2="383.62" y2="240.41" stroke="#2c4a7d" stroke-width="0.7"/>
<line x1="382.12" y1="236.23" x2="385.12" y2="236.23" stroke="#2c4a7d" stroke-width="0.8"/>
<line x1="382.12" y1="240.41" x2="385.12" y2="240.41" stroke="#2c4a7d" stroke-width="0.8"/>
<rect x="382.31" y="237.01" width="2.62" height="2.62" fill="#fff" stroke="#2c4a7d" stroke-width="0.7"/>
<line x1="401.52" y1="242.5" x2="401.52" y2="259.23" stroke="#2c4a7d" stroke-width="0.7"/>
<line x1="400.02" y1="242.5" x2="403.02" y2="242.5" stroke="#2c4a7d" stroke-width="0.8"/>
<line x1="400.02" y1="259.23" x2="403.02" y2="259.23" stroke="#2c4a7d" stroke-width="0.8"/>
<rect x="400.21" y="248.16" width="2.62" height="2.62" fill="#fff" stroke="#2c4a7d" stroke-width="0.7"/>
<text x="7.4" y="378.4" font-size="12" font-weight="bold">D</text>
<text x="73.2" y="401.9" font-size="9.1">S63845, 24 hr</text>
<line x1="38.5" y1="406.8" x2="38.5" y2="483.6" stroke="#000" stroke-width="1.3"/>
<line x1="37.9" y1="482.9" x2="153" y2="482.9" stroke="#000" stroke-width="1.4"/>
<line x1="35.2" y1="413.2" x2="38.5" y2="413.2" stroke="#000" stroke-width="1.1"/>
<text x="31.5" y="415.5" font-size="6.4" text-anchor="end">100</text>
<line x1="35.2" y1="448.05" x2="38.5" y2="448.05" stroke="#000" stroke-width="1.1"/>
<text x="31.5" y="450.35" font-size="6.4" text-anchor="end">50</text>
<line x1="35.2" y1="482.9" x2="38.5" y2="482.9" stroke="#000" stroke-width="1.1"/>
<text x="31.5" y="485.2" font-size="6.4" text-anchor="end">0</text>
<line x1="37" y1="430.62" x2="38.5" y2="430.62" stroke="#000" stroke-width="1.0"/>
<line x1="37" y1="465.47" x2="38.5" y2="465.47" stroke="#000" stroke-width="1.0"/>
<line x1="52.2" y1="482.9" x2="52.2" y2="486.4" stroke="#000" stroke-width="1.1"/>
<text x="52.2" y="494.9" font-size="6.8" text-anchor="middle">16</text>
<line x1="73.72" y1="482.9" x2="73.72" y2="486.4" stroke="#000" stroke-width="1.1"/>
<text x="73.72" y="494.9" font-size="6.8" text-anchor="middle">80</text>
<line x1="95.25" y1="482.9" x2="95.25" y2="486.4" stroke="#000" stroke-width="1.1"/>
<text x="95.25" y="494.9" font-size="6.8" text-anchor="middle">400</text>
<line x1="116.77" y1="482.9" x2="116.77" y2="486.4" stroke="#000" stroke-width="1.1"/>
<text x="116.77" y="494.9" font-size="6.8" text-anchor="middle">2000</text>
<line x1="138.3" y1="482.9" x2="138.3" y2="486.4" stroke="#000" stroke-width="1.1"/>
<text x="138.3" y="494.9" font-size="6.8" text-anchor="middle">10000</text>
<text transform="translate(95.9,507) scale(0.67,1)" font-size="8.7" font-weight="bold" text-anchor="middle">nM</text>
<text transform="translate(15.6,445.2) rotate(-90) scale(0.716,1)" font-size="8.4" font-weight="bold" text-anchor="middle">% live cells / DMSO</text>
<line x1="162.8" y1="422.3" x2="171.5" y2="422.3" stroke="#a4002a" stroke-width="0.9"/>
<circle cx="167.2" cy="422.3" r="1.4" fill="#a4002a"/>
<text class="lg" x="175" y="424.3" font-size="6.6">isg<tspan font-style="italic">MCL-1</tspan>_hEx1 clone #4</text>
<line x1="162.8" y1="431.3" x2="171.5" y2="431.3" stroke="#a4002a" stroke-width="0.9"/>
<path d="M167.2 429.76L168.6 432.42L165.8 432.42Z" fill="#a4002a"/>
<text class="lg" x="175" y="433.3" font-size="6.6">isg<tspan font-style="italic">MCL-1</tspan>_hEx1 clone #13</text>
<line x1="162.8" y1="440.3" x2="171.5" y2="440.3" stroke="#a4002a" stroke-width="0.9"/>
<rect x="165.8" y="438.9" width="2.8" height="2.8" fill="#a4002a"/>
<text class="lg" x="175" y="442.3" font-size="6.6">isg<tspan font-style="italic">MCL-1</tspan>_hEx1 clone #22</text>
<line x1="162.8" y1="449.3" x2="171.5" y2="449.3" stroke="#2c4a7d" stroke-width="0.9"/>
<circle cx="167.2" cy="449.3" r="1.148" fill="#fff" stroke="#2c4a7d" stroke-width="0.7"/>
<text class="lg" x="175" y="451.3" font-size="6.6">isgNT clone #107</text>
<line x1="162.8" y1="458.3" x2="171.5" y2="458.3" stroke="#2c4a7d" stroke-width="0.9"/>
<path d="M167.2 457.04L168.35 459.22L166.05 459.22Z" fill="#fff" stroke="#2c4a7d" stroke-width="0.7"/>
<text class="lg" x="175" y="460.3" font-size="6.6">isgNT clone #108</text>
<line x1="162.8" y1="467.3" x2="171.5" y2="467.3" stroke="#2c4a7d" stroke-width="0.9"/>
<rect x="166.05" y="466.15" width="2.3" height="2.3" fill="#fff" stroke="#2c4a7d" stroke-width="0.7"/>
<text class="lg" x="175" y="469.3" font-size="6.6">isgNT clone #109</text>
<path d="M52.2 413.9 L52.92 413.9 L53.65 413.9 L54.37 413.9 L55.09 413.9 L55.82 413.9 L56.54 413.9 L57.26 413.9 L57.99 413.9 L58.71 413.9 L59.44 413.9 L60.16 413.9 L60.88 413.9 L61.61 413.9 L62.33 413.9 L63.05 413.9 L63.78 413.9 L64.5 413.9 L65.22 413.9 L65.95 413.9 L66.67 413.9 L67.39 413.9 L68.12 413.9 L68.84 413.9 L69.56 413.9 L70.29 413.9 L71.01 413.9 L71.74 413.9 L72.46 413.9 L73.18 413.9 L73.91 413.9 L74.63 413.9 L75.35 413.9 L76.08 413.9 L76.8 413.9 L77.52 413.9 L78.25 413.9 L78.97 413.9 L79.69 413.9 L80.42 413.9 L81.14 413.9 L81.86 413.9 L82.59 413.9 L83.31 413.9 L84.04 413.9 L84.76 413.9 L85.48 413.9 L86.21 413.9 L86.93 413.9 L87.65 413.9 L88.38 413.9 L89.1 413.9 L89.82 413.9 L90.55 413.9 L91.27 413.9 L91.99 413.9 L92.72 413.9 L93.44 413.9 L94.16 413.9 L94.89 413.9 L95.61 413.9 L96.34 413.9 L97.06 413.9 L97.78 413.9 L98.51 413.9 L99.23 413.91 L99.95 413.91 L100.68 413.92 L101.4 413.92 L102.12 413.93 L102.85 413.95 L103.57 413.96 L104.29 413.99 L105.02 414.02 L105.74 414.07 L106.46 414.13 L107.19 414.22 L107.91 414.33 L108.64 414.47 L109.36 414.66 L110.08 414.89 L110.81 415.16 L111.53 415.47 L112.25 415.82 L112.98 416.19 L113.7 416.55 L114.42 416.9 L115.15 417.21 L115.87 417.47 L116.59 417.69 L117.32 417.87 L118.04 418.01 L118.76 418.12 L119.49 418.2 L120.21 418.26 L120.94 418.31 L121.66 418.34 L122.38 418.36 L123.11 418.38 L123.83 418.39 L124.55 418.4 L125.28 418.41 L126 418.41 L126.72 418.42 L127.45 418.42 L128.17 418.42 L128.89 418.42 L129.62 418.42 L130.34 418.43 L131.06 418.43 L131.79 418.43 L132.51 418.43 L133.24 418.43 L133.96 418.43 L134.68 418.43 L135.41 418.43 L136.13 418.43 L136.85 418.43 L137.58 418.43 L138.3 418.43" fill="none" stroke="#2c4a7d" stroke-width="1.15"/>
<line x1="52.2" y1="409.71" x2="52.2" y2="415.99" stroke="#2c4a7d" stroke-width="0.7"/>
<line x1="50.7" y1="409.71" x2="53.7" y2="409.71" stroke="#2c4a7d" stroke-width="0.8"/>
<line x1="50.7" y1="415.99" x2="53.7" y2="415.99" stroke="#2c4a7d" stroke-width="0.8"/>
<rect x="50.89" y="412.58" width="2.62" height="2.62" fill="#fff" stroke="#2c4a7d" stroke-width="0.7"/>
<line x1="73.72" y1="409.02" x2="73.72" y2="420.17" stroke="#2c4a7d" stroke-width="0.7"/>
<line x1="72.22" y1="409.02" x2="75.22" y2="409.02" stroke="#2c4a7d" stroke-width="0.8"/>
<line x1="72.22" y1="420.17" x2="75.22" y2="420.17" stroke="#2c4a7d" stroke-width="0.8"/>
<rect x="72.41" y="412.58" width="2.62" height="2.62" fill="#fff" stroke="#2c4a7d" stroke-width="0.7"/>
<line x1="95.25" y1="409.02" x2="95.25" y2="420.17" stroke="#2c4a7d" stroke-width="0.7"/>
<line x1="93.75" y1="409.02" x2="96.75" y2="409.02" stroke="#2c4a7d" stroke-width="0.8"/>
<line x1="93.75" y1="420.17" x2="96.75" y2="420.17" stroke="#2c4a7d" stroke-width="0.8"/>
<rect x="93.94" y="412.58" width="2.62" height="2.62" fill="#fff" stroke="#2c4a7d" stroke-width="0.7"/>
<line x1="116.77" y1="406.23" x2="116.77" y2="424.35" stroke="#2c4a7d" stroke-width="0.7"/>
<line x1="115.27" y1="406.23" x2="118.27" y2="406.23" stroke="#2c4a7d" stroke-width="0.8"/>
<line x1="115.27" y1="424.35" x2="118.27" y2="424.35" stroke="#2c4a7d" stroke-width="0.8"/>
<rect x="115.46" y="415.37" width="2.62" height="2.62" fill="#fff" stroke="#2c4a7d" stroke-width="0.7"/>
<line x1="138.3" y1="406.23" x2="138.3" y2="431.32" stroke="#2c4a7d" stroke-width="0.7"/>
<line x1="136.8" y1="406.23" x2="139.8" y2="406.23" stroke="#2c4a7d" stroke-width="0.8"/>
<line x1="136.8" y1="431.32" x2="139.8" y2="431.32" stroke="#2c4a7d" stroke-width="0.8"/>
<rect x="136.99" y="417.46" width="2.62" height="2.62" fill="#fff" stroke="#2c4a7d" stroke-width="0.7"/>
<path d="M52.2 413.2 L52.92 413.2 L53.65 413.2 L54.37 413.2 L55.09 413.2 L55.82 413.2 L56.54 413.2 L57.26 413.2 L57.99 413.2 L58.71 413.2 L59.44 413.2 L60.16 413.2 L60.88 413.2 L61.61 413.2 L62.33 413.2 L63.05 413.2 L63.78 413.2 L64.5 413.2 L65.22 413.2 L65.95 413.2 L66.67 413.2 L67.39 413.2 L68.12 413.2 L68.84 413.2 L69.56 413.2 L70.29 413.2 L71.01 413.2 L71.74 413.2 L72.46 413.2 L73.18 413.2 L73.91 413.2 L74.63 413.2 L75.35 413.2 L76.08 413.2 L76.8 413.2 L77.52 413.2 L78.25 413.2 L78.97 413.2 L79.69 413.2 L80.42 413.2 L81.14 413.2 L81.86 413.2 L82.59 413.2 L83.31 413.2 L84.04 413.2 L84.76 413.2 L85.48 413.2 L86.21 413.2 L86.93 413.2 L87.65 413.2 L88.38 413.2 L89.1 413.2 L89.82 413.2 L90.55 413.2 L91.27 413.2 L91.99 413.2 L92.72 413.2 L93.44 413.2 L94.16 413.2 L94.89 413.2 L95.61 413.2 L96.34 413.2 L97.06 413.2 L97.78 413.2 L98.51 413.21 L99.23 413.21 L99.95 413.21 L100.68 413.22 L101.4 413.22 L102.12 413.23 L102.85 413.24 L103.57 413.26 L104.29 413.28 L105.02 413.31 L105.74 413.35 L106.46 413.4 L107.19 413.47 L107.91 413.57 L108.64 413.69 L109.36 413.84 L110.08 414.04 L110.81 414.27 L111.53 414.53 L112.25 414.83 L112.98 415.14 L113.7 415.45 L114.42 415.74 L115.15 416 L115.87 416.23 L116.59 416.41 L117.32 416.56 L118.04 416.68 L118.76 416.77 L119.49 416.84 L120.21 416.89 L120.94 416.93 L121.66 416.96 L122.38 416.98 L123.11 416.99 L123.83 417 L124.55 417.01 L125.28 417.02 L126 417.02 L126.72 417.03 L127.45 417.03 L128.17 417.03 L128.89 417.03 L129.62 417.03 L130.34 417.03 L131.06 417.03 L131.79 417.03 L132.51 417.03 L133.24 417.03 L133.96 417.03 L134.68 417.03 L135.41 417.03 L136.13 417.03 L136.85 417.03 L137.58 417.03 L138.3 417.03" fill="none" stroke="#2c4a7d" stroke-width="1.15"/>
<line x1="52.2" y1="409.02" x2="52.2" y2="415.29" stroke="#2c4a7d" stroke-width="0.7"/>
<line x1="50.7" y1="409.02" x2="53.7" y2="409.02" stroke="#2c4a7d" stroke-width="0.8"/>
<line x1="50.7" y1="415.29" x2="53.7" y2="415.29" stroke="#2c4a7d" stroke-width="0.8"/>
<circle cx="52.2" cy="413.2" r="1.312" fill="#fff" stroke="#2c4a7d" stroke-width="0.7"/>
<line x1="73.72" y1="408.32" x2="73.72" y2="416.69" stroke="#2c4a7d" stroke-width="0.7"/>
<line x1="72.22" y1="408.32" x2="75.22" y2="408.32" stroke="#2c4a7d" stroke-width="0.8"/>
<line x1="72.22" y1="416.69" x2="75.22" y2="416.69" stroke="#2c4a7d" stroke-width="0.8"/>
<circle cx="73.72" cy="413.2" r="1.312" fill="#fff" stroke="#2c4a7d" stroke-width="0.7"/>
<line x1="95.25" y1="408.32" x2="95.25" y2="416.69" stroke="#2c4a7d" stroke-width="0.7"/>
<line x1="93.75" y1="408.32" x2="96.75" y2="408.32" stroke="#2c4a7d" stroke-width="0.8"/>
<line x1="93.75" y1="416.69" x2="96.75" y2="416.69" stroke="#2c4a7d" stroke-width="0.8"/>
<circle cx="95.25" cy="413.2" r="1.312" fill="#fff" stroke="#2c4a7d" stroke-width="0.7"/>
<line x1="116.77" y1="410.41" x2="116.77" y2="420.17" stroke="#2c4a7d" stroke-width="0.7"/>
<line x1="115.27" y1="410.41" x2="118.27" y2="410.41" stroke="#2c4a7d" stroke-width="0.8"/>
<line x1="115.27" y1="420.17" x2="118.27" y2="420.17" stroke="#2c4a7d" stroke-width="0.8"/>
<circle cx="116.77" cy="415.99" r="1.312" fill="#fff" stroke="#2c4a7d" stroke-width="0.7"/>
<line x1="138.3" y1="411.81" x2="138.3" y2="422.96" stroke="#2c4a7d" stroke-width="0.7"/>
<line x1="136.8" y1="411.81" x2="139.8" y2="411.81" stroke="#2c4a7d" stroke-width="0.8"/>
<line x1="136.8" y1="422.96" x2="139.8" y2="422.96" stroke="#2c4a7d" stroke-width="0.8"/>
<circle cx="138.3" cy="417.38" r="1.312" fill="#fff" stroke="#2c4a7d" stroke-width="0.7"/>
<path d="M52.2 412.85 L52.92 412.85 L53.65 412.85 L54.37 412.85 L55.09 412.85 L55.82 412.85 L56.54 412.85 L57.26 412.85 L57.99 412.85 L58.71 412.85 L59.44 412.85 L60.16 412.85 L60.88 412.85 L61.61 412.85 L62.33 412.85 L63.05 412.85 L63.78 412.85 L64.5 412.85 L65.22 412.85 L65.95 412.85 L66.67 412.85 L67.39 412.85 L68.12 412.85 L68.84 412.85 L69.56 412.85 L70.29 412.85 L71.01 412.85 L71.74 412.85 L72.46 412.85 L73.18 412.85 L73.91 412.85 L74.63 412.85 L75.35 412.85 L76.08 412.85 L76.8 412.85 L77.52 412.85 L78.25 412.85 L78.97 412.85 L79.69 412.85 L80.42 412.85 L81.14 412.85 L81.86 412.85 L82.59 412.85 L83.31 412.85 L84.04 412.85 L84.76 412.85 L85.48 412.85 L86.21 412.85 L86.93 412.85 L87.65 412.85 L88.38 412.85 L89.1 412.85 L89.82 412.85 L90.55 412.85 L91.27 412.85 L91.99 412.85 L92.72 412.85 L93.44 412.85 L94.16 412.85 L94.89 412.85 L95.61 412.85 L96.34 412.85 L97.06 412.85 L97.78 412.85 L98.51 412.86 L99.23 412.86 L99.95 412.86 L100.68 412.86 L101.4 412.87 L102.12 412.87 L102.85 412.88 L103.57 412.89 L104.29 412.9 L105.02 412.92 L105.74 412.94 L106.46 412.98 L107.19 413.02 L107.91 413.08 L108.64 413.16 L109.36 413.26 L110.08 413.38 L110.81 413.53 L111.53 413.7 L112.25 413.89 L112.98 414.08 L113.7 414.28 L114.42 414.47 L115.15 414.63 L115.87 414.78 L116.59 414.9 L117.32 414.99 L118.04 415.07 L118.76 415.13 L119.49 415.17 L120.21 415.2 L120.94 415.23 L121.66 415.24 L122.38 415.26 L123.11 415.27 L123.83 415.27 L124.55 415.28 L125.28 415.28 L126 415.28 L126.72 415.29 L127.45 415.29 L128.17 415.29 L128.89 415.29 L129.62 415.29 L130.34 415.29 L131.06 415.29 L131.79 415.29 L132.51 415.29 L133.24 415.29 L133.96 415.29 L134.68 415.29 L135.41 415.29 L136.13 415.29 L136.85 415.29 L137.58 415.29 L138.3 415.29" fill="none" stroke="#2c4a7d" stroke-width="1.15"/>
<line x1="52.2" y1="408.67" x2="52.2" y2="414.25" stroke="#2c4a7d" stroke-width="0.7"/>
<line x1="50.7" y1="408.67" x2="53.7" y2="408.67" stroke="#2c4a7d" stroke-width="0.8"/>
<line x1="50.7" y1="414.25" x2="53.7" y2="414.25" stroke="#2c4a7d" stroke-width="0.8"/>
<path d="M52.2 411.41L53.51 413.9L50.89 413.9Z" fill="#fff" stroke="#2c4a7d" stroke-width="0.7"/>
<line x1="73.72" y1="407.97" x2="73.72" y2="414.94" stroke="#2c4a7d" stroke-width="0.7"/>
<line x1="72.22" y1="407.97" x2="75.22" y2="407.97" stroke="#2c4a7d" stroke-width="0.8"/>
<line x1="72.22" y1="414.94" x2="75.22" y2="414.94" stroke="#2c4a7d" stroke-width="0.8"/>
<path d="M73.72 411.41L75.04 413.9L72.41 413.9Z" fill="#fff" stroke="#2c4a7d" stroke-width="0.7"/>
<line x1="95.25" y1="407.97" x2="95.25" y2="414.94" stroke="#2c4a7d" stroke-width="0.7"/>
<line x1="93.75" y1="407.97" x2="96.75" y2="407.97" stroke="#2c4a7d" stroke-width="0.8"/>
<line x1="93.75" y1="414.94" x2="96.75" y2="414.94" stroke="#2c4a7d" stroke-width="0.8"/>
<path d="M95.25 411.41L96.56 413.9L93.94 413.9Z" fill="#fff" stroke="#2c4a7d" stroke-width="0.7"/>
<line x1="116.77" y1="409.71" x2="116.77" y2="417.38" stroke="#2c4a7d" stroke-width="0.7"/>
<line x1="115.27" y1="409.71" x2="118.27" y2="409.71" stroke="#2c4a7d" stroke-width="0.8"/>
<line x1="115.27" y1="417.38" x2="118.27" y2="417.38" stroke="#2c4a7d" stroke-width="0.8"/>
<path d="M116.77 413.15L118.09 415.64L115.46 415.64Z" fill="#fff" stroke="#2c4a7d" stroke-width="0.7"/>
<line x1="138.3" y1="409.71" x2="138.3" y2="422.26" stroke="#2c4a7d" stroke-width="0.7"/>
<line x1="136.8" y1="409.71" x2="139.8" y2="409.71" stroke="#2c4a7d" stroke-width="0.8"/>
<line x1="136.8" y1="422.26" x2="139.8" y2="422.26" stroke="#2c4a7d" stroke-width="0.8"/>
<path d="M138.3 413.85L139.61 416.34L136.99 416.34Z" fill="#fff" stroke="#2c4a7d" stroke-width="0.7"/>
<path d="M52.2 411.81 L52.92 411.81 L53.65 411.81 L54.37 411.81 L55.09 411.81 L55.82 411.81 L56.54 411.81 L57.26 411.81 L57.99 411.81 L58.71 411.81 L59.44 411.81 L60.16 411.81 L60.88 411.81 L61.61 411.81 L62.33 411.81 L63.05 411.81 L63.78 411.81 L64.5 411.81 L65.22 411.81 L65.95 411.81 L66.67 411.81 L67.39 411.81 L68.12 411.81 L68.84 411.81 L69.56 411.81 L70.29 411.81 L71.01 411.81 L71.74 411.81 L72.46 411.81 L73.18 411.81 L73.91 411.81 L74.63 411.81 L75.35 411.81 L76.08 411.81 L76.8 411.81 L77.52 411.81 L78.25 411.81 L78.97 411.81 L79.69 411.81 L80.42 411.81 L81.14 411.81 L81.86 411.81 L82.59 411.81 L83.31 411.81 L84.04 411.81 L84.76 411.81 L85.48 411.81 L86.21 411.81 L86.93 411.81 L87.65 411.81 L88.38 411.81 L89.1 411.81 L89.82 411.81 L90.55 411.81 L91.27 411.81 L91.99 411.81 L92.72 411.81 L93.44 411.81 L94.16 411.81 L94.89 411.81 L95.61 411.81 L96.34 411.81 L97.06 411.81 L97.78 411.81 L98.51 411.81 L99.23 411.81 L99.95 411.81 L100.68 411.81 L101.4 411.82 L102.12 411.82 L102.85 411.82 L103.57 411.83 L104.29 411.84 L105.02 411.85 L105.74 411.87 L106.46 411.9 L107.19 411.93 L107.91 411.97 L108.64 412.03 L109.36 412.1 L110.08 412.19 L110.81 412.29 L111.53 412.41 L112.25 412.55 L112.98 412.69 L113.7 412.83 L114.42 412.96 L115.15 413.08 L115.87 413.18 L116.59 413.27 L117.32 413.34 L118.04 413.39 L118.76 413.43 L119.49 413.46 L120.21 413.48 L120.94 413.5 L121.66 413.51 L122.38 413.52 L123.11 413.53 L123.83 413.54 L124.55 413.54 L125.28 413.54 L126 413.54 L126.72 413.54 L127.45 413.55 L128.17 413.55 L128.89 413.55 L129.62 413.55 L130.34 413.55 L131.06 413.55 L131.79 413.55 L132.51 413.55 L133.24 413.55 L133.96 413.55 L134.68 413.55 L135.41 413.55 L136.13 413.55 L136.85 413.55 L137.58 413.55 L138.3 413.55" fill="none" stroke="#a4002a" stroke-width="1.15"/>
<line x1="52.2" y1="409.02" x2="52.2" y2="414.59" stroke="#a4002a" stroke-width="0.7"/>
<line x1="50.7" y1="409.02" x2="53.7" y2="409.02" stroke="#a4002a" stroke-width="0.8"/>
<line x1="50.7" y1="414.59" x2="53.7" y2="414.59" stroke="#a4002a" stroke-width="0.8"/>
<path d="M52.2 410.05L53.8 413.09L50.6 413.09Z" fill="#a4002a"/>
<line x1="73.72" y1="408.32" x2="73.72" y2="415.29" stroke="#a4002a" stroke-width="0.7"/>
<line x1="72.22" y1="408.32" x2="75.22" y2="408.32" stroke="#a4002a" stroke-width="0.8"/>
<line x1="72.22" y1="415.29" x2="75.22" y2="415.29" stroke="#a4002a" stroke-width="0.8"/>
<path d="M73.72 410.05L75.32 413.09L72.12 413.09Z" fill="#a4002a"/>
<line x1="95.25" y1="408.32" x2="95.25" y2="415.29" stroke="#a4002a" stroke-width="0.7"/>
<line x1="93.75" y1="408.32" x2="96.75" y2="408.32" stroke="#a4002a" stroke-width="0.8"/>
<line x1="93.75" y1="415.29" x2="96.75" y2="415.29" stroke="#a4002a" stroke-width="0.8"/>
<path d="M95.25 410.05L96.85 413.09L93.65 413.09Z" fill="#a4002a"/>
<line x1="116.77" y1="409.71" x2="116.77" y2="415.29" stroke="#a4002a" stroke-width="0.7"/>
<line x1="115.27" y1="409.71" x2="118.27" y2="409.71" stroke="#a4002a" stroke-width="0.8"/>
<line x1="115.27" y1="415.29" x2="118.27" y2="415.29" stroke="#a4002a" stroke-width="0.8"/>
<path d="M116.77 410.74L118.37 413.78L115.17 413.78Z" fill="#a4002a"/>
<line x1="138.3" y1="410.06" x2="138.3" y2="417.03" stroke="#a4002a" stroke-width="0.7"/>
<line x1="136.8" y1="410.06" x2="139.8" y2="410.06" stroke="#a4002a" stroke-width="0.8"/>
<line x1="136.8" y1="417.03" x2="139.8" y2="417.03" stroke="#a4002a" stroke-width="0.8"/>
<path d="M138.3 411.79L139.9 414.83L136.7 414.83Z" fill="#a4002a"/>
<path d="M52.2 411.6 L52.92 411.6 L53.65 411.6 L54.37 411.6 L55.09 411.6 L55.82 411.6 L56.54 411.6 L57.26 411.6 L57.99 411.6 L58.71 411.6 L59.44 411.6 L60.16 411.6 L60.88 411.6 L61.61 411.6 L62.33 411.6 L63.05 411.6 L63.78 411.6 L64.5 411.6 L65.22 411.6 L65.95 411.6 L66.67 411.6 L67.39 411.6 L68.12 411.6 L68.84 411.6 L69.56 411.6 L70.29 411.6 L71.01 411.6 L71.74 411.6 L72.46 411.6 L73.18 411.6 L73.91 411.6 L74.63 411.6 L75.35 411.6 L76.08 411.6 L76.8 411.6 L77.52 411.6 L78.25 411.6 L78.97 411.6 L79.69 411.6 L80.42 411.6 L81.14 411.6 L81.86 411.6 L82.59 411.6 L83.31 411.6 L84.04 411.6 L84.76 411.6 L85.48 411.6 L86.21 411.6 L86.93 411.6 L87.65 411.6 L88.38 411.6 L89.1 411.6 L89.82 411.6 L90.55 411.6 L91.27 411.6 L91.99 411.6 L92.72 411.6 L93.44 411.6 L94.16 411.6 L94.89 411.6 L95.61 411.6 L96.34 411.6 L97.06 411.6 L97.78 411.6 L98.51 411.6 L99.23 411.6 L99.95 411.6 L100.68 411.6 L101.4 411.61 L102.12 411.61 L102.85 411.61 L103.57 411.62 L104.29 411.63 L105.02 411.64 L105.74 411.66 L106.46 411.68 L107.19 411.71 L107.91 411.75 L108.64 411.8 L109.36 411.87 L110.08 411.95 L110.81 412.04 L111.53 412.16 L112.25 412.28 L112.98 412.41 L113.7 412.54 L114.42 412.66 L115.15 412.77 L115.87 412.86 L116.59 412.94 L117.32 413 L118.04 413.05 L118.76 413.09 L119.49 413.12 L120.21 413.14 L120.94 413.16 L121.66 413.17 L122.38 413.18 L123.11 413.18 L123.83 413.19 L124.55 413.19 L125.28 413.19 L126 413.2 L126.72 413.2 L127.45 413.2 L128.17 413.2 L128.89 413.2 L129.62 413.2 L130.34 413.2 L131.06 413.2 L131.79 413.2 L132.51 413.2 L133.24 413.2 L133.96 413.2 L134.68 413.2 L135.41 413.2 L136.13 413.2 L136.85 413.2 L137.58 413.2 L138.3 413.2" fill="none" stroke="#a4002a" stroke-width="1.15"/>
<line x1="52.2" y1="408.81" x2="52.2" y2="414.38" stroke="#a4002a" stroke-width="0.7"/>
<line x1="50.7" y1="408.81" x2="53.7" y2="408.81" stroke="#a4002a" stroke-width="0.8"/>
<line x1="50.7" y1="414.38" x2="53.7" y2="414.38" stroke="#a4002a" stroke-width="0.8"/>
<circle cx="52.2" cy="411.6" r="1.6" fill="#a4002a"/>
<line x1="73.72" y1="408.11" x2="73.72" y2="415.08" stroke="#a4002a" stroke-width="0.7"/>
<line x1="72.22" y1="408.11" x2="75.22" y2="408.11" stroke="#a4002a" stroke-width="0.8"/>
<line x1="72.22" y1="415.08" x2="75.22" y2="415.08" stroke="#a4002a" stroke-width="0.8"/>
<circle cx="73.72" cy="411.6" r="1.6" fill="#a4002a"/>
<line x1="95.25" y1="408.11" x2="95.25" y2="415.08" stroke="#a4002a" stroke-width="0.7"/>
<line x1="93.75" y1="408.11" x2="96.75" y2="408.11" stroke="#a4002a" stroke-width="0.8"/>
<line x1="93.75" y1="415.08" x2="96.75" y2="415.08" stroke="#a4002a" stroke-width="0.8"/>
<circle cx="95.25" cy="411.6" r="1.6" fill="#a4002a"/>
<line x1="116.77" y1="409.37" x2="116.77" y2="414.94" stroke="#a4002a" stroke-width="0.7"/>
<line x1="115.27" y1="409.37" x2="118.27" y2="409.37" stroke="#a4002a" stroke-width="0.8"/>
<line x1="115.27" y1="414.94" x2="118.27" y2="414.94" stroke="#a4002a" stroke-width="0.8"/>
<circle cx="116.77" cy="412.15" r="1.6" fill="#a4002a"/>
<line x1="138.3" y1="409.71" x2="138.3" y2="416.69" stroke="#a4002a" stroke-width="0.7"/>
<line x1="136.8" y1="409.71" x2="139.8" y2="409.71" stroke="#a4002a" stroke-width="0.8"/>
<line x1="136.8" y1="416.69" x2="139.8" y2="416.69" stroke="#a4002a" stroke-width="0.8"/>
<circle cx="138.3" cy="413.2" r="1.6" fill="#a4002a"/>
<path d="M52.2 411.46 L52.92 411.46 L53.65 411.46 L54.37 411.46 L55.09 411.46 L55.82 411.46 L56.54 411.46 L57.26 411.46 L57.99 411.46 L58.71 411.46 L59.44 411.46 L60.16 411.46 L60.88 411.46 L61.61 411.46 L62.33 411.46 L63.05 411.46 L63.78 411.46 L64.5 411.46 L65.22 411.46 L65.95 411.46 L66.67 411.46 L67.39 411.46 L68.12 411.46 L68.84 411.46 L69.56 411.46 L70.29 411.46 L71.01 411.46 L71.74 411.46 L72.46 411.46 L73.18 411.46 L73.91 411.46 L74.63 411.46 L75.35 411.46 L76.08 411.46 L76.8 411.46 L77.52 411.46 L78.25 411.46 L78.97 411.46 L79.69 411.46 L80.42 411.46 L81.14 411.46 L81.86 411.46 L82.59 411.46 L83.31 411.46 L84.04 411.46 L84.76 411.46 L85.48 411.46 L86.21 411.46 L86.93 411.46 L87.65 411.46 L88.38 411.46 L89.1 411.46 L89.82 411.46 L90.55 411.46 L91.27 411.46 L91.99 411.46 L92.72 411.46 L93.44 411.46 L94.16 411.46 L94.89 411.46 L95.61 411.46 L96.34 411.46 L97.06 411.46 L97.78 411.46 L98.51 411.46 L99.23 411.46 L99.95 411.46 L100.68 411.46 L101.4 411.47 L102.12 411.47 L102.85 411.47 L103.57 411.48 L104.29 411.49 L105.02 411.5 L105.74 411.51 L106.46 411.53 L107.19 411.56 L107.91 411.59 L108.64 411.63 L109.36 411.69 L110.08 411.76 L110.81 411.85 L111.53 411.94 L112.25 412.05 L112.98 412.16 L113.7 412.27 L114.42 412.38 L115.15 412.48 L115.87 412.56 L116.59 412.63 L117.32 412.68 L118.04 412.72 L118.76 412.76 L119.49 412.78 L120.21 412.8 L120.94 412.81 L121.66 412.82 L122.38 412.83 L123.11 412.84 L123.83 412.84 L124.55 412.84 L125.28 412.85 L126 412.85 L126.72 412.85 L127.45 412.85 L128.17 412.85 L128.89 412.85 L129.62 412.85 L130.34 412.85 L131.06 412.85 L131.79 412.85 L132.51 412.85 L133.24 412.85 L133.96 412.85 L134.68 412.85 L135.41 412.85 L136.13 412.85 L136.85 412.85 L137.58 412.85 L138.3 412.85" fill="none" stroke="#a4002a" stroke-width="1.15"/>
<line x1="52.2" y1="408.67" x2="52.2" y2="414.25" stroke="#a4002a" stroke-width="0.7"/>
<line x1="50.7" y1="408.67" x2="53.7" y2="408.67" stroke="#a4002a" stroke-width="0.8"/>
<line x1="50.7" y1="414.25" x2="53.7" y2="414.25" stroke="#a4002a" stroke-width="0.8"/>
<rect x="50.6" y="409.86" width="3.2" height="3.2" fill="#a4002a"/>
<line x1="73.72" y1="407.97" x2="73.72" y2="414.94" stroke="#a4002a" stroke-width="0.7"/>
<line x1="72.22" y1="407.97" x2="75.22" y2="407.97" stroke="#a4002a" stroke-width="0.8"/>
<line x1="72.22" y1="414.94" x2="75.22" y2="414.94" stroke="#a4002a" stroke-width="0.8"/>
<rect x="72.12" y="409.86" width="3.2" height="3.2" fill="#a4002a"/>
<line x1="95.25" y1="407.97" x2="95.25" y2="414.94" stroke="#a4002a" stroke-width="0.7"/>
<line x1="93.75" y1="407.97" x2="96.75" y2="407.97" stroke="#a4002a" stroke-width="0.8"/>
<line x1="93.75" y1="414.94" x2="96.75" y2="414.94" stroke="#a4002a" stroke-width="0.8"/>
<rect x="93.65" y="409.86" width="3.2" height="3.2" fill="#a4002a"/>
<line x1="116.77" y1="409.02" x2="116.77" y2="414.59" stroke="#a4002a" stroke-width="0.7"/>
<line x1="115.27" y1="409.02" x2="118.27" y2="409.02" stroke="#a4002a" stroke-width="0.8"/>
<line x1="115.27" y1="414.59" x2="118.27" y2="414.59" stroke="#a4002a" stroke-width="0.8"/>
<rect x="115.17" y="410.21" width="3.2" height="3.2" fill="#a4002a"/>
<line x1="138.3" y1="409.37" x2="138.3" y2="416.34" stroke="#a4002a" stroke-width="0.7"/>
<line x1="136.8" y1="409.37" x2="139.8" y2="409.37" stroke="#a4002a" stroke-width="0.8"/>
<line x1="136.8" y1="416.34" x2="139.8" y2="416.34" stroke="#a4002a" stroke-width="0.8"/>
<rect x="136.7" y="411.25" width="3.2" height="3.2" fill="#a4002a"/>
<text x="267.9" y="378.3" font-size="12" font-weight="bold">E</text>
<text x="351.7" y="389.6" font-size="9.1" text-anchor="middle">IC50</text>
<line x1="310.9" y1="401.3" x2="310.9" y2="483.6" stroke="#000" stroke-width="1.3"/>
<line x1="308" y1="483" x2="393.4" y2="483" stroke="#000" stroke-width="1.4"/>
<line x1="307.6" y1="406.18" x2="310.9" y2="406.18" stroke="#000" stroke-width="1.1"/>
<text x="304.2" y="408.48" font-size="6.4" text-anchor="end">≥10000</text>
<line x1="307.6" y1="425.36" x2="310.9" y2="425.36" stroke="#000" stroke-width="1.1"/>
<text x="304.2" y="427.66" font-size="6.4" text-anchor="end">1000</text>
<line x1="307.6" y1="444.54" x2="310.9" y2="444.54" stroke="#000" stroke-width="1.1"/>
<text x="304.2" y="446.84" font-size="6.4" text-anchor="end">100</text>
<line x1="307.6" y1="463.72" x2="310.9" y2="463.72" stroke="#000" stroke-width="1.1"/>
<text x="304.2" y="466.02" font-size="6.4" text-anchor="end">10</text>
<line x1="307.6" y1="482.9" x2="310.9" y2="482.9" stroke="#000" stroke-width="1.1"/>
<text x="304.2" y="485.2" font-size="6.4" text-anchor="end">1</text>
<line x1="323.3" y1="483" x2="323.3" y2="486" stroke="#000" stroke-width="1.1"/>
<line x1="351.6" y1="483" x2="351.6" y2="486" stroke="#000" stroke-width="1.1"/>
<line x1="380.3" y1="483" x2="380.3" y2="486" stroke="#000" stroke-width="1.1"/>
<rect x="315.3" y="414.01" width="5.5" height="68.99" fill="#2c4a7d" stroke="#1b3567" stroke-width="0.8"/>
<rect x="325.6" y="465.98" width="6.1" height="17.02" fill="#a4002a" stroke="#930020" stroke-width="0.8"/>
<rect x="343.5" y="406.58" width="5.8" height="76.42" fill="#2c4a7d" stroke="#1b3567" stroke-width="0.8"/>
<rect x="354.2" y="414.86" width="5.7" height="68.14" fill="#a4002a" stroke="#930020" stroke-width="0.8"/>
<rect x="372.2" y="406.58" width="5.5" height="76.42" fill="#2c4a7d" stroke="#1b3567" stroke-width="0.8"/>
<rect x="382.6" y="406.58" width="5.9" height="76.42" fill="#a4002a" stroke="#930020" stroke-width="0.8"/>
<line x1="318.05" y1="407.7" x2="318.05" y2="413.61" stroke="#000" stroke-width="0.8"/>
<line x1="315.85" y1="407.7" x2="320.25" y2="407.7" stroke="#000" stroke-width="1.0"/>
<line x1="328.65" y1="462.6" x2="328.65" y2="465.58" stroke="#000" stroke-width="0.8"/>
<line x1="326.45" y1="462.6" x2="330.85" y2="462.6" stroke="#000" stroke-width="1.0"/>
<line x1="357.05" y1="411.6" x2="357.05" y2="414.46" stroke="#000" stroke-width="0.8"/>
<line x1="354.85" y1="411.6" x2="359.25" y2="411.6" stroke="#000" stroke-width="1.0"/>
<path d="M317.6 405.2V400.6H328.8V405.2" fill="none" stroke="#000" stroke-width="0.9"/>
<text x="323" y="399.7" font-size="6.0" text-anchor="middle">**</text>
<text transform="translate(326.9,492.6) rotate(-45)" font-size="7.0" text-anchor="end">A-1331852</text>
<text transform="translate(355.2,492.6) rotate(-45)" font-size="7.0" text-anchor="end">ABT199</text>
<text transform="translate(383.9,492.6) rotate(-45)" font-size="7.0" text-anchor="end">S63845</text>
<text transform="translate(275.3,441.9) rotate(-90) scale(0.697,1)" font-size="8.4" font-weight="bold" text-anchor="middle">IC50, nM</text>
<rect x="403.2" y="404.2" width="8.4" height="3.9" fill="#2c4a7d" stroke="#1b3567" stroke-width="0.8"/>
<text x="415" y="408.1" font-size="6.5">isgNT</text>
<rect x="403.2" y="416.2" width="8.4" height="3.9" fill="#a4002a" stroke="#930020" stroke-width="0.8"/>
<text x="415" y="420.1" font-size="6.5">isg<tspan font-style="italic">MCL-1</tspan>_hEx1</text>
</svg></body></html>
